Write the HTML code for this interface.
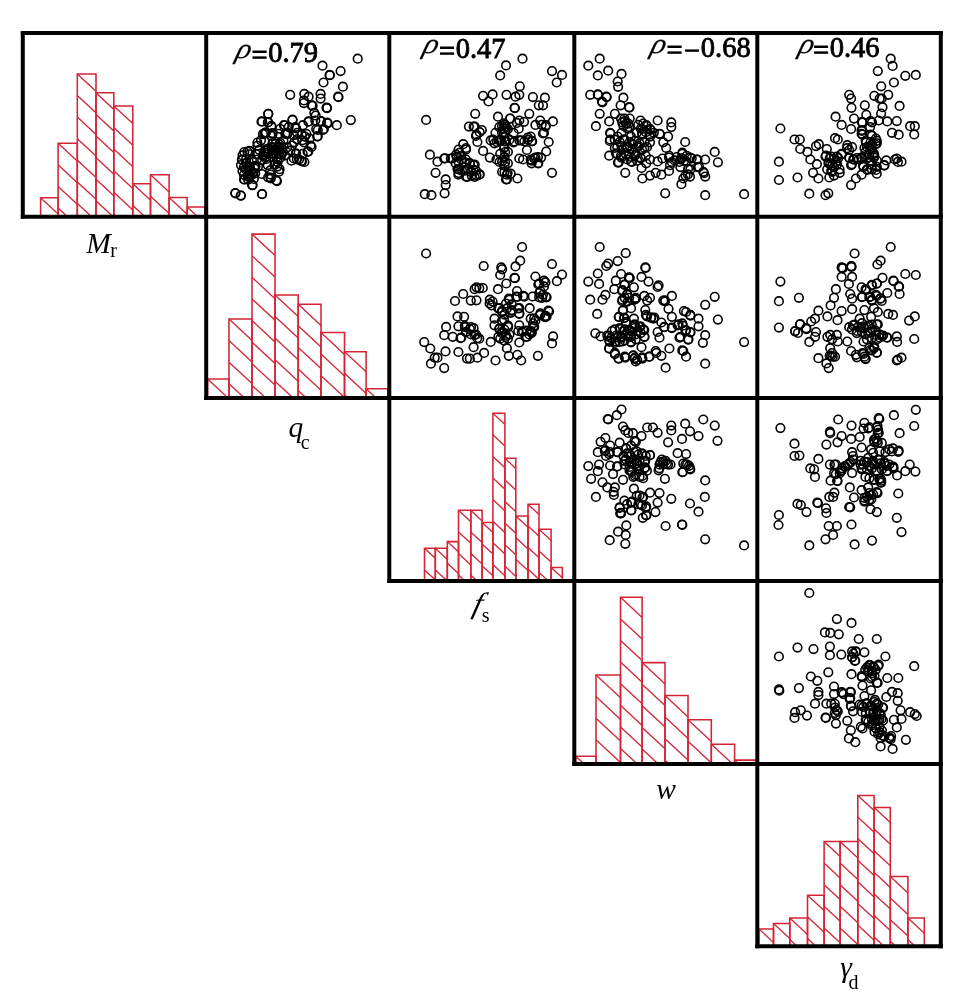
<!DOCTYPE html>
<html><head><meta charset="utf-8"><title>Scatter matrix</title>
<style>
html,body{margin:0;padding:0;background:#fff;}
body{width:968px;height:999px;overflow:hidden;}
svg{display:block;will-change:transform;}
text{font-family:"Liberation Serif",serif;fill:#000;}
</style></head><body>
<svg width="968" height="999" viewBox="0 0 968 999">
<rect x="0" y="0" width="968" height="999" fill="#fff"/>
<g fill="none" stroke="#d42436" stroke-width="1.55">
<path d="M40.6 197.7L58.1 214.0" stroke-width="1.35" stroke="#d02a3c"/>
<path d="M40.6 215.3V197.7H58.1V215.3"/>
<path d="M58.1 143.2L77.3 161.1M58.1 164.8L77.3 182.7M58.1 186.4L77.3 204.3M58.1 208.0L65.9 215.3" stroke-width="1.35" stroke="#d02a3c"/>
<path d="M58.1 215.3V143.2H77.3V215.3"/>
<path d="M77.3 73.9L96.0 91.2M77.3 95.5L96.0 112.8M77.3 117.1L96.0 134.4M77.3 138.7L96.0 156.0M77.3 160.3L96.0 177.6M77.3 181.9L96.0 199.2M77.3 203.5L90.0 215.3" stroke-width="1.35" stroke="#d02a3c"/>
<path d="M77.3 215.3V73.9H96.0V215.3"/>
<path d="M96.0 92.8L113.8 109.4M96.0 114.4L113.8 131.0M96.0 136.0L113.8 152.6M96.0 157.6L113.8 174.2M96.0 179.2L113.8 195.8M96.0 200.8L111.5 215.3" stroke-width="1.35" stroke="#d02a3c"/>
<path d="M96.0 215.3V92.8H113.8V215.3"/>
<path d="M113.8 105.9L132.8 123.6M113.8 127.5L132.8 145.2M113.8 149.1L132.8 166.8M113.8 170.7L132.8 188.4M113.8 192.3L132.8 210.0M113.8 213.9L115.3 215.3" stroke-width="1.35" stroke="#d02a3c"/>
<path d="M113.8 215.3V105.9H132.8V215.3"/>
<path d="M132.8 183.8L150.5 200.3M132.8 205.4L143.4 215.3" stroke-width="1.35" stroke="#d02a3c"/>
<path d="M132.8 215.3V183.8H150.5V215.3"/>
<path d="M150.5 174.8L169.1 192.0M150.5 196.3L169.1 213.6" stroke-width="1.35" stroke="#d02a3c"/>
<path d="M150.5 215.3V174.8H169.1V215.3"/>
<path d="M169.1 197.4L187.1 214.2" stroke-width="1.35" stroke="#d02a3c"/>
<path d="M169.1 215.3V197.4H187.1V215.3"/>
<path d="M187.1 206.9L196.1 215.3" stroke-width="1.35" stroke="#d02a3c"/>
<path d="M187.1 215.3V206.9H204.8V215.3"/>
<path d="M207.6 379.0L226.5 396.6" stroke-width="1.35" stroke="#d02a3c"/>
<path d="M207.6 396.6V379.0H229.0V396.6"/>
<path d="M229.0 319.0L252.0 340.4M229.0 340.6L252.0 362.0M229.0 362.2L252.0 383.6M229.0 383.8L242.8 396.6" stroke-width="1.35" stroke="#d02a3c"/>
<path d="M229.0 396.6V319.0H252.0V396.6"/>
<path d="M252.0 234.1L275.0 255.5M252.0 255.7L275.0 277.1M252.0 277.3L275.0 298.7M252.0 298.9L275.0 320.3M252.0 320.5L275.0 341.9M252.0 342.1L275.0 363.5M252.0 363.7L275.0 385.1M252.0 385.3L264.2 396.6" stroke-width="1.35" stroke="#d02a3c"/>
<path d="M252.0 396.6V234.1H275.0V396.6"/>
<path d="M275.0 294.9L298.2 316.5M275.0 316.5L298.2 338.1M275.0 338.1L298.2 359.7M275.0 359.7L298.2 381.3M275.0 381.3L291.5 396.6" stroke-width="1.35" stroke="#d02a3c"/>
<path d="M275.0 396.6V294.9H298.2V396.6"/>
<path d="M298.2 304.2L321.0 325.4M298.2 325.8L321.0 347.0M298.2 347.4L321.0 368.6M298.2 369.0L321.0 390.2M298.2 390.6L304.7 396.6" stroke-width="1.35" stroke="#d02a3c"/>
<path d="M298.2 396.6V304.2H321.0V396.6"/>
<path d="M321.0 332.5L344.5 354.4M321.0 354.1L344.5 376.0M321.0 375.7L343.5 396.6M344.2 332.5L344.5 332.8" stroke-width="1.35" stroke="#d02a3c"/>
<path d="M321.0 396.6V332.5H344.5V396.6"/>
<path d="M344.5 351.7L366.1 371.8M344.5 373.3L366.1 393.4M344.5 394.9L346.3 396.6" stroke-width="1.35" stroke="#d02a3c"/>
<path d="M344.5 396.6V351.7H366.1V396.6"/>
<path d="M366.1 388.8L374.5 396.6" stroke-width="1.35" stroke="#d02a3c"/>
<path d="M366.1 396.6V388.8H387.8V396.6"/>
<path d="M424.5 548.3L435.3 558.3M424.5 569.9L434.9 579.6" stroke-width="1.35" stroke="#d02a3c"/>
<path d="M424.5 579.6V548.3H435.3V579.6"/>
<path d="M435.3 548.3L447.3 559.5M435.3 569.9L445.7 579.6" stroke-width="1.35" stroke="#d02a3c"/>
<path d="M435.3 579.6V548.3H447.3V579.6"/>
<path d="M447.3 541.6L458.5 552.0M447.3 563.2L458.5 573.6" stroke-width="1.35" stroke="#d02a3c"/>
<path d="M447.3 579.6V541.6H458.5V579.6"/>
<path d="M458.5 510.3L470.8 521.7M458.5 531.9L470.8 543.3M458.5 553.5L470.8 564.9M458.5 575.1L463.3 579.6" stroke-width="1.35" stroke="#d02a3c"/>
<path d="M458.5 579.6V510.3H470.8V579.6"/>
<path d="M470.8 510.3L482.1 520.9M470.8 531.9L482.1 542.5M470.8 553.5L482.1 564.1M470.8 575.1L475.6 579.6" stroke-width="1.35" stroke="#d02a3c"/>
<path d="M470.8 579.6V510.3H482.1V579.6"/>
<path d="M482.1 522.5L492.9 532.5M482.1 544.1L492.9 554.1M482.1 565.7L492.9 575.7" stroke-width="1.35" stroke="#d02a3c"/>
<path d="M482.1 579.6V522.5H492.9V579.6"/>
<path d="M492.9 413.2L504.9 424.5M492.9 434.8L504.9 446.1M492.9 456.4L504.9 467.7M492.9 478.0L504.9 489.3M492.9 499.6L504.9 510.9M492.9 521.2L504.9 532.5M492.9 542.8L504.9 554.1M492.9 564.4L504.9 575.7" stroke-width="1.35" stroke="#d02a3c"/>
<path d="M492.9 579.6V413.2H504.9V579.6"/>
<path d="M504.9 458.3L515.8 468.4M504.9 479.9L515.8 490.0M504.9 501.5L515.8 511.6M504.9 523.1L515.8 533.2M504.9 544.7L515.8 554.8M504.9 566.3L515.8 576.4" stroke-width="1.35" stroke="#d02a3c"/>
<path d="M504.9 579.6V458.3H515.8V579.6"/>
<path d="M515.8 516.0L528.0 527.3M515.8 537.6L528.0 548.9M515.8 559.2L528.0 570.5" stroke-width="1.35" stroke="#d02a3c"/>
<path d="M515.8 579.6V516.0H528.0V579.6"/>
<path d="M528.0 504.3L539.0 514.6M528.0 525.9L539.0 536.2M528.0 547.5L539.0 557.8M528.0 569.1L539.0 579.4" stroke-width="1.35" stroke="#d02a3c"/>
<path d="M528.0 579.6V504.3H539.0V579.6"/>
<path d="M539.0 529.3L551.1 540.5M539.0 550.9L551.1 562.1M539.0 572.5L546.7 579.6" stroke-width="1.35" stroke="#d02a3c"/>
<path d="M539.0 579.6V529.3H551.1V579.6"/>
<path d="M551.1 567.4L562.3 577.8" stroke-width="1.35" stroke="#d02a3c"/>
<path d="M551.1 579.6V567.4H562.3V579.6"/>
<path d="M575.8 756.3L582.6 762.6" stroke-width="1.35" stroke="#d02a3c"/>
<path d="M575.8 762.6V756.3H596.0V762.6"/>
<path d="M596.0 675.0L620.5 697.8M596.0 696.6L620.5 719.4M596.0 718.2L620.5 741.0M596.0 739.8L620.5 762.6M596.0 761.4L597.3 762.6M619.2 675.0L620.5 676.2" stroke-width="1.35" stroke="#d02a3c"/>
<path d="M596.0 762.6V675.0H620.5V762.6"/>
<path d="M620.5 597.3L642.1 617.4M620.5 618.9L642.1 639.0M620.5 640.5L642.1 660.6M620.5 662.1L642.1 682.2M620.5 683.7L642.1 703.8M620.5 705.3L642.1 725.4M620.5 726.9L642.1 747.0M620.5 748.5L635.7 762.6" stroke-width="1.35" stroke="#d02a3c"/>
<path d="M620.5 762.6V597.3H642.1V762.6"/>
<path d="M642.1 662.6L665.0 683.9M642.1 684.2L665.0 705.5M642.1 705.8L665.0 727.1M642.1 727.4L665.0 748.7M642.1 749.0L656.7 762.6" stroke-width="1.35" stroke="#d02a3c"/>
<path d="M642.1 762.6V662.6H665.0V762.6"/>
<path d="M665.0 695.5L688.0 716.9M665.0 717.1L688.0 738.5M665.0 738.7L688.0 760.1M665.0 760.3L667.5 762.6" stroke-width="1.35" stroke="#d02a3c"/>
<path d="M665.0 762.6V695.5H688.0V762.6"/>
<path d="M688.0 719.7L711.3 741.4M688.0 741.3L710.9 762.6M711.2 719.7L711.3 719.8" stroke-width="1.35" stroke="#d02a3c"/>
<path d="M688.0 762.6V719.7H711.3V762.6"/>
<path d="M711.3 744.3L731.0 762.6M734.5 744.3L734.6 744.4" stroke-width="1.35" stroke="#d02a3c"/>
<path d="M711.3 762.6V744.3H734.6V762.6"/>
<path d="M734.6 760.1L737.3 762.6" stroke-width="1.35" stroke="#d02a3c"/>
<path d="M734.6 762.6V760.1H755.9V762.6"/>
<path d="M759.0 928.9L773.5 942.4" stroke-width="1.35" stroke="#d02a3c"/>
<path d="M759.0 944.8V928.9H773.5V944.8"/>
<path d="M773.5 923.4L789.8 938.6" stroke-width="1.35" stroke="#d02a3c"/>
<path d="M773.5 944.8V923.4H789.8V944.8"/>
<path d="M789.8 917.9L807.5 934.4M789.8 939.5L795.5 944.8" stroke-width="1.35" stroke="#d02a3c"/>
<path d="M789.8 944.8V917.9H807.5V944.8"/>
<path d="M807.5 895.2L824.1 910.6M807.5 916.8L824.1 932.2M807.5 938.4L814.4 944.8" stroke-width="1.35" stroke="#d02a3c"/>
<path d="M807.5 944.8V895.2H824.1V944.8"/>
<path d="M824.1 841.5L840.1 856.4M824.1 863.1L840.1 878.0M824.1 884.7L840.1 899.6M824.1 906.3L840.1 921.2M824.1 927.9L840.1 942.8" stroke-width="1.35" stroke="#d02a3c"/>
<path d="M824.1 944.8V841.5H840.1V944.8"/>
<path d="M840.1 841.5L857.8 858.0M840.1 863.1L857.8 879.6M840.1 884.7L857.8 901.2M840.1 906.3L857.8 922.8M840.1 927.9L857.8 944.4" stroke-width="1.35" stroke="#d02a3c"/>
<path d="M840.1 944.8V841.5H857.8V944.8"/>
<path d="M857.8 795.4L874.1 810.6M857.8 817.0L874.1 832.2M857.8 838.6L874.1 853.8M857.8 860.2L874.1 875.4M857.8 881.8L874.1 897.0M857.8 903.4L874.1 918.6M857.8 925.0L874.1 940.2" stroke-width="1.35" stroke="#d02a3c"/>
<path d="M857.8 944.8V795.4H874.1V944.8"/>
<path d="M874.1 807.5L890.3 822.6M874.1 829.1L890.3 844.2M874.1 850.7L890.3 865.8M874.1 872.3L890.3 887.4M874.1 893.9L890.3 909.0M874.1 915.5L890.3 930.6M874.1 937.1L882.4 944.8" stroke-width="1.35" stroke="#d02a3c"/>
<path d="M874.1 944.8V807.5H890.3V944.8"/>
<path d="M890.3 876.5L907.9 892.9M890.3 898.1L907.9 914.5M890.3 919.7L907.9 936.1M890.3 941.3L894.1 944.8" stroke-width="1.35" stroke="#d02a3c"/>
<path d="M890.3 944.8V876.5H907.9V944.8"/>
<path d="M907.9 917.9L924.3 933.2M907.9 939.5L913.6 944.8" stroke-width="1.35" stroke="#d02a3c"/>
<path d="M907.9 944.8V917.9H924.3V944.8"/>
</g>
<g fill="none" stroke="#000" stroke-width="1.6">
<g><circle cx="357.7" cy="58.7" r="4.3"/><circle cx="322.5" cy="65.7" r="4.3"/><circle cx="340.6" cy="71.1" r="4.3"/><circle cx="329.6" cy="74.9" r="4.3"/><circle cx="329.9" cy="75.2" r="4.3"/><circle cx="323.5" cy="82.5" r="4.3"/><circle cx="342.9" cy="86.7" r="4.3"/><circle cx="290.2" cy="94.8" r="4.3"/><circle cx="304.3" cy="93.9" r="4.3"/><circle cx="308.6" cy="96.7" r="4.3"/><circle cx="320.6" cy="93.9" r="4.3"/><circle cx="320.6" cy="98.6" r="4.3"/><circle cx="338.1" cy="96.7" r="4.3"/><circle cx="338.5" cy="97.1" r="4.3"/><circle cx="303.9" cy="100.5" r="4.3"/><circle cx="311.5" cy="105.3" r="4.3"/><circle cx="326.7" cy="107.8" r="4.3"/><circle cx="327.1" cy="108.1" r="4.3"/><circle cx="314.3" cy="112.9" r="4.3"/><circle cx="268.3" cy="113.8" r="4.3"/><circle cx="350.8" cy="120.1" r="4.3"/><circle cx="336.8" cy="125.2" r="4.3"/><circle cx="262.1" cy="121.4" r="4.3"/><circle cx="267.8" cy="122.4" r="4.3"/><circle cx="292.5" cy="119.5" r="4.3"/><circle cx="308.6" cy="121.4" r="4.3"/><circle cx="315.3" cy="120.5" r="4.3"/><circle cx="321.0" cy="121.4" r="4.3"/><circle cx="327.7" cy="123.3" r="4.3"/><circle cx="283.9" cy="125.2" r="4.3"/><circle cx="288.7" cy="127.1" r="4.3"/><circle cx="295.3" cy="127.1" r="4.3"/><circle cx="302.9" cy="125.2" r="4.3"/><circle cx="271.6" cy="127.1" r="4.3"/><circle cx="316.2" cy="129.0" r="4.3"/><circle cx="323.9" cy="129.0" r="4.3"/><circle cx="264.9" cy="132.8" r="4.3"/><circle cx="272.5" cy="133.8" r="4.3"/><circle cx="287.7" cy="132.8" r="4.3"/><circle cx="297.2" cy="132.8" r="4.3"/><circle cx="304.8" cy="136.6" r="4.3"/><circle cx="317.2" cy="136.6" r="4.3"/><circle cx="309.6" cy="138.5" r="4.3"/><circle cx="235.5" cy="193.3" r="4.3"/><circle cx="240.8" cy="195.6" r="4.3"/><circle cx="262.1" cy="194.2" r="4.3"/><circle cx="252.6" cy="185.1" r="4.3"/><circle cx="276.3" cy="180.4" r="4.3"/><circle cx="270.6" cy="177.5" r="4.3"/><circle cx="302.0" cy="161.4" r="4.3"/><circle cx="299.1" cy="159.5" r="4.3"/><circle cx="249.7" cy="150.9" r="4.3"/><circle cx="242.1" cy="159.5" r="4.3"/><circle cx="244.0" cy="179.4" r="4.3"/><circle cx="268.2" cy="113.9" r="4.3"/><circle cx="261.5" cy="121.7" r="4.3"/><circle cx="268.2" cy="122.2" r="4.3"/><circle cx="271.3" cy="125.8" r="4.3"/><circle cx="292.5" cy="120.1" r="4.3"/><circle cx="284.8" cy="125.3" r="4.3"/><circle cx="264.6" cy="133.6" r="4.3"/><circle cx="272.4" cy="133.1" r="4.3"/><circle cx="261.0" cy="140.3" r="4.3"/><circle cx="296.1" cy="128.4" r="4.3"/><circle cx="287.3" cy="134.1" r="4.3"/><circle cx="308.5" cy="121.7" r="4.3"/><circle cx="315.7" cy="115.5" r="4.3"/><circle cx="312.6" cy="105.7" r="4.3"/><circle cx="326.6" cy="107.7" r="4.3"/><circle cx="320.9" cy="121.2" r="4.3"/><circle cx="303.9" cy="103.1" r="4.3"/><circle cx="327.1" cy="122.7" r="4.3"/><circle cx="317.8" cy="130.0" r="4.3"/><circle cx="323.0" cy="130.0" r="4.3"/><circle cx="317.8" cy="136.2" r="4.3"/><circle cx="306.4" cy="134.1" r="4.3"/><circle cx="302.3" cy="140.3" r="4.3"/><circle cx="310.6" cy="145.5" r="4.3"/><circle cx="297.1" cy="139.3" r="4.3"/><circle cx="292.0" cy="145.5" r="4.3"/><circle cx="307.5" cy="151.7" r="4.3"/><circle cx="301.3" cy="161.0" r="4.3"/><circle cx="304.4" cy="162.0" r="4.3"/><circle cx="296.1" cy="153.7" r="4.3"/><circle cx="249.6" cy="151.1" r="4.3"/><circle cx="241.9" cy="159.9" r="4.3"/><circle cx="254.8" cy="166.1" r="4.3"/><circle cx="254.8" cy="166.1" r="4.3"/><circle cx="255.5" cy="166.5" r="4.3"/><circle cx="243.9" cy="167.1" r="4.3"/><circle cx="279.6" cy="169.2" r="4.3"/><circle cx="277.0" cy="181.1" r="4.3"/><circle cx="270.8" cy="178.5" r="4.3"/><circle cx="252.2" cy="185.2" r="4.3"/><circle cx="244.5" cy="179.5" r="4.3"/><circle cx="253.8" cy="179.0" r="4.3"/><circle cx="248.6" cy="174.4" r="4.3"/><circle cx="262.0" cy="194.0" r="4.3"/><circle cx="235.2" cy="193.0" r="4.3"/><circle cx="240.8" cy="195.6" r="4.3"/><circle cx="262.9" cy="134.1" r="4.3"/><circle cx="279.3" cy="146.9" r="4.3"/><circle cx="242.5" cy="155.4" r="4.3"/><circle cx="270.7" cy="174.6" r="4.3"/><circle cx="282.4" cy="148.8" r="4.3"/><circle cx="304.1" cy="142.4" r="4.3"/><circle cx="261.8" cy="174.0" r="4.3"/><circle cx="251.9" cy="159.9" r="4.3"/><circle cx="287.2" cy="147.3" r="4.3"/><circle cx="280.2" cy="128.8" r="4.3"/><circle cx="290.4" cy="150.7" r="4.3"/><circle cx="262.2" cy="160.1" r="4.3"/><circle cx="272.9" cy="143.0" r="4.3"/><circle cx="256.8" cy="159.5" r="4.3"/><circle cx="294.2" cy="142.3" r="4.3"/><circle cx="270.2" cy="170.4" r="4.3"/><circle cx="249.7" cy="154.3" r="4.3"/><circle cx="241.0" cy="165.1" r="4.3"/><circle cx="296.9" cy="159.4" r="4.3"/><circle cx="291.5" cy="160.7" r="4.3"/><circle cx="282.7" cy="152.4" r="4.3"/><circle cx="274.5" cy="164.8" r="4.3"/><circle cx="267.7" cy="165.1" r="4.3"/><circle cx="242.5" cy="171.1" r="4.3"/><circle cx="268.1" cy="177.3" r="4.3"/><circle cx="244.2" cy="152.0" r="4.3"/><circle cx="259.4" cy="149.9" r="4.3"/><circle cx="256.0" cy="154.1" r="4.3"/><circle cx="283.4" cy="140.8" r="4.3"/><circle cx="266.4" cy="159.0" r="4.3"/><circle cx="277.7" cy="162.1" r="4.3"/><circle cx="268.2" cy="148.9" r="4.3"/><circle cx="246.0" cy="163.1" r="4.3"/><circle cx="285.3" cy="133.9" r="4.3"/><circle cx="257.4" cy="145.8" r="4.3"/><circle cx="266.0" cy="132.4" r="4.3"/><circle cx="273.9" cy="154.0" r="4.3"/><circle cx="264.4" cy="140.9" r="4.3"/><circle cx="301.8" cy="134.7" r="4.3"/><circle cx="278.7" cy="133.8" r="4.3"/><circle cx="250.9" cy="171.3" r="4.3"/><circle cx="279.0" cy="171.7" r="4.3"/><circle cx="258.0" cy="166.6" r="4.3"/><circle cx="311.5" cy="146.9" r="4.3"/><circle cx="302.7" cy="153.8" r="4.3"/><circle cx="295.8" cy="153.7" r="4.3"/><circle cx="293.8" cy="135.2" r="4.3"/><circle cx="249.3" cy="174.6" r="4.3"/><circle cx="257.4" cy="142.6" r="4.3"/><circle cx="248.1" cy="179.6" r="4.3"/><circle cx="265.2" cy="152.5" r="4.3"/><circle cx="276.6" cy="156.9" r="4.3"/><circle cx="271.9" cy="136.0" r="4.3"/><circle cx="293.8" cy="158.4" r="4.3"/><circle cx="263.1" cy="156.1" r="4.3"/><circle cx="246.2" cy="158.6" r="4.3"/><circle cx="308.3" cy="151.6" r="4.3"/><circle cx="285.2" cy="155.3" r="4.3"/><circle cx="277.4" cy="166.6" r="4.3"/><circle cx="272.8" cy="157.0" r="4.3"/><circle cx="247.4" cy="151.5" r="4.3"/><circle cx="249.9" cy="168.0" r="4.3"/><circle cx="275.3" cy="144.0" r="4.3"/><circle cx="272.4" cy="153.6" r="4.3"/><circle cx="266.0" cy="156.8" r="4.3"/><circle cx="273.7" cy="149.4" r="4.3"/><circle cx="265.6" cy="154.6" r="4.3"/><circle cx="275.7" cy="150.2" r="4.3"/><circle cx="278.2" cy="150.0" r="4.3"/><circle cx="262.9" cy="155.3" r="4.3"/><circle cx="265.5" cy="150.5" r="4.3"/><circle cx="277.3" cy="159.4" r="4.3"/><circle cx="280.3" cy="143.0" r="4.3"/><circle cx="278.8" cy="153.7" r="4.3"/><circle cx="278.9" cy="147.7" r="4.3"/><circle cx="281.4" cy="154.1" r="4.3"/><circle cx="272.2" cy="150.4" r="4.3"/><circle cx="280.7" cy="157.4" r="4.3"/><circle cx="265.5" cy="150.5" r="4.3"/><circle cx="273.0" cy="147.7" r="4.3"/><circle cx="268.4" cy="152.4" r="4.3"/><circle cx="279.2" cy="144.4" r="4.3"/><circle cx="271.7" cy="147.2" r="4.3"/><circle cx="281.3" cy="148.7" r="4.3"/><circle cx="245.7" cy="169.5" r="4.3"/><circle cx="254.5" cy="168.6" r="4.3"/><circle cx="249.9" cy="176.7" r="4.3"/><circle cx="248.5" cy="170.1" r="4.3"/><circle cx="247.8" cy="176.6" r="4.3"/><circle cx="252.9" cy="172.7" r="4.3"/><circle cx="248.7" cy="167.0" r="4.3"/><circle cx="244.0" cy="174.8" r="4.3"/><circle cx="246.6" cy="163.3" r="4.3"/><circle cx="255.2" cy="173.4" r="4.3"/></g>
<g><circle cx="522.5" cy="58.7" r="4.3"/><circle cx="506.0" cy="65.4" r="4.3"/><circle cx="500.2" cy="75.4" r="4.3"/><circle cx="552.0" cy="71.1" r="4.3"/><circle cx="562.0" cy="74.9" r="4.3"/><circle cx="556.7" cy="82.5" r="4.3"/><circle cx="519.8" cy="86.3" r="4.3"/><circle cx="483.1" cy="95.8" r="4.3"/><circle cx="492.6" cy="94.4" r="4.3"/><circle cx="488.5" cy="101.5" r="4.3"/><circle cx="506.5" cy="94.8" r="4.3"/><circle cx="515.5" cy="96.7" r="4.3"/><circle cx="519.3" cy="94.8" r="4.3"/><circle cx="532.9" cy="97.1" r="4.3"/><circle cx="544.9" cy="97.7" r="4.3"/><circle cx="538.8" cy="105.3" r="4.3"/><circle cx="543.0" cy="105.3" r="4.3"/><circle cx="514.5" cy="107.8" r="4.3"/><circle cx="514.9" cy="108.1" r="4.3"/><circle cx="475.2" cy="113.8" r="4.3"/><circle cx="529.3" cy="113.8" r="4.3"/><circle cx="498.0" cy="116.7" r="4.3"/><circle cx="426.1" cy="119.9" r="4.3"/><circle cx="510.1" cy="118.6" r="4.3"/><circle cx="519.3" cy="120.5" r="4.3"/><circle cx="524.0" cy="121.8" r="4.3"/><circle cx="504.0" cy="123.3" r="4.3"/><circle cx="499.3" cy="127.1" r="4.3"/><circle cx="506.0" cy="127.1" r="4.3"/><circle cx="535.4" cy="124.9" r="4.3"/><circle cx="540.2" cy="120.5" r="4.3"/><circle cx="545.9" cy="125.2" r="4.3"/><circle cx="552.9" cy="121.4" r="4.3"/><circle cx="544.0" cy="132.8" r="4.3"/><circle cx="548.7" cy="142.0" r="4.3"/><circle cx="546.2" cy="151.5" r="4.3"/><circle cx="468.9" cy="126.6" r="4.3"/><circle cx="473.6" cy="126.6" r="4.3"/><circle cx="481.8" cy="130.0" r="4.3"/><circle cx="476.5" cy="134.7" r="4.3"/><circle cx="477.4" cy="142.0" r="4.3"/><circle cx="518.7" cy="128.7" r="4.3"/><circle cx="513.6" cy="132.8" r="4.3"/><circle cx="490.7" cy="140.4" r="4.3"/><circle cx="494.5" cy="143.3" r="4.3"/><circle cx="499.3" cy="140.4" r="4.3"/><circle cx="506.0" cy="141.4" r="4.3"/><circle cx="513.6" cy="142.3" r="4.3"/><circle cx="521.2" cy="140.4" r="4.3"/><circle cx="527.8" cy="137.6" r="4.3"/><circle cx="532.2" cy="141.4" r="4.3"/><circle cx="530.7" cy="136.6" r="4.3"/><circle cx="463.2" cy="144.2" r="4.3"/><circle cx="466.0" cy="148.0" r="4.3"/><circle cx="459.4" cy="152.8" r="4.3"/><circle cx="456.5" cy="156.6" r="4.3"/><circle cx="483.1" cy="150.9" r="4.3"/><circle cx="489.8" cy="157.6" r="4.3"/><circle cx="526.9" cy="150.0" r="4.3"/><circle cx="504.0" cy="148.0" r="4.3"/><circle cx="507.9" cy="151.9" r="4.3"/><circle cx="500.2" cy="153.8" r="4.3"/><circle cx="504.0" cy="157.6" r="4.3"/><circle cx="496.4" cy="159.5" r="4.3"/><circle cx="507.9" cy="163.3" r="4.3"/><circle cx="502.1" cy="161.4" r="4.3"/><circle cx="519.3" cy="158.5" r="4.3"/><circle cx="523.1" cy="159.5" r="4.3"/><circle cx="530.7" cy="159.5" r="4.3"/><circle cx="535.4" cy="157.6" r="4.3"/><circle cx="541.1" cy="157.6" r="4.3"/><circle cx="538.3" cy="163.3" r="4.3"/><circle cx="531.6" cy="163.3" r="4.3"/><circle cx="429.9" cy="154.7" r="4.3"/><circle cx="437.5" cy="161.7" r="4.3"/><circle cx="444.2" cy="158.5" r="4.3"/><circle cx="450.8" cy="158.5" r="4.3"/><circle cx="455.6" cy="163.3" r="4.3"/><circle cx="461.3" cy="159.5" r="4.3"/><circle cx="466.0" cy="159.5" r="4.3"/><circle cx="469.8" cy="163.3" r="4.3"/><circle cx="473.6" cy="165.2" r="4.3"/><circle cx="457.5" cy="169.0" r="4.3"/><circle cx="462.2" cy="170.9" r="4.3"/><circle cx="467.9" cy="169.0" r="4.3"/><circle cx="473.6" cy="169.9" r="4.3"/><circle cx="458.4" cy="174.7" r="4.3"/><circle cx="466.0" cy="176.6" r="4.3"/><circle cx="471.7" cy="175.6" r="4.3"/><circle cx="476.5" cy="175.6" r="4.3"/><circle cx="479.3" cy="174.7" r="4.3"/><circle cx="435.6" cy="172.8" r="4.3"/><circle cx="445.7" cy="179.4" r="4.3"/><circle cx="445.7" cy="185.1" r="4.3"/><circle cx="444.6" cy="193.3" r="4.3"/><circle cx="424.8" cy="194.2" r="4.3"/><circle cx="431.4" cy="195.2" r="4.3"/><circle cx="552.0" cy="172.8" r="4.3"/><circle cx="502.1" cy="171.8" r="4.3"/><circle cx="506.9" cy="174.7" r="4.3"/><circle cx="510.7" cy="173.7" r="4.3"/><circle cx="506.0" cy="179.4" r="4.3"/><circle cx="517.4" cy="178.5" r="4.3"/><circle cx="495.5" cy="132.8" r="4.3"/><circle cx="502.1" cy="132.8" r="4.3"/><circle cx="507.9" cy="129.0" r="4.3"/><circle cx="493.3" cy="139.7" r="4.3"/><circle cx="497.0" cy="142.1" r="4.3"/><circle cx="500.7" cy="140.3" r="4.3"/><circle cx="504.5" cy="141.5" r="4.3"/><circle cx="509.4" cy="139.7" r="4.3"/><circle cx="514.4" cy="141.5" r="4.3"/><circle cx="519.3" cy="140.3" r="4.3"/><circle cx="524.3" cy="141.5" r="4.3"/><circle cx="528.0" cy="139.7" r="4.3"/><circle cx="531.7" cy="140.9" r="4.3"/><circle cx="504.5" cy="124.8" r="4.3"/><circle cx="503.8" cy="128.5" r="4.3"/><circle cx="505.1" cy="132.2" r="4.3"/><circle cx="504.5" cy="137.2" r="4.3"/><circle cx="504.5" cy="147.1" r="4.3"/><circle cx="505.1" cy="152.1" r="4.3"/><circle cx="504.5" cy="157.0" r="4.3"/><circle cx="505.1" cy="162.0" r="4.3"/><circle cx="504.5" cy="165.7" r="4.3"/><circle cx="516.9" cy="122.9" r="4.3"/><circle cx="502.0" cy="126.0" r="4.3"/><circle cx="505.7" cy="126.7" r="4.3"/><circle cx="510.0" cy="118.6" r="4.3"/><circle cx="474.7" cy="126.7" r="4.3"/><circle cx="479.7" cy="132.2" r="4.3"/><circle cx="476.0" cy="136.0" r="4.3"/><circle cx="541.7" cy="124.8" r="4.3"/><circle cx="545.4" cy="126.7" r="4.3"/><circle cx="542.9" cy="133.5" r="4.3"/><circle cx="537.9" cy="157.0" r="4.3"/><circle cx="534.2" cy="158.3" r="4.3"/><circle cx="531.7" cy="160.7" r="4.3"/><circle cx="537.9" cy="163.2" r="4.3"/><circle cx="499.5" cy="162.0" r="4.3"/><circle cx="504.5" cy="171.9" r="4.3"/><circle cx="507.6" cy="173.1" r="4.3"/><circle cx="506.9" cy="179.3" r="4.3"/><circle cx="458.6" cy="149.6" r="4.3"/><circle cx="466.0" cy="149.6" r="4.3"/><circle cx="456.1" cy="154.5" r="4.3"/><circle cx="461.1" cy="155.8" r="4.3"/><circle cx="452.4" cy="158.3" r="4.3"/><circle cx="445.0" cy="158.3" r="4.3"/><circle cx="458.6" cy="162.0" r="4.3"/><circle cx="464.8" cy="162.0" r="4.3"/><circle cx="469.8" cy="163.2" r="4.3"/><circle cx="474.7" cy="164.5" r="4.3"/><circle cx="458.6" cy="169.4" r="4.3"/><circle cx="464.8" cy="170.7" r="4.3"/><circle cx="471.0" cy="171.9" r="4.3"/><circle cx="476.0" cy="170.7" r="4.3"/><circle cx="458.6" cy="173.1" r="4.3"/><circle cx="467.3" cy="176.9" r="4.3"/><circle cx="474.7" cy="176.9" r="4.3"/><circle cx="479.7" cy="174.4" r="4.3"/></g>
<g><circle cx="599.7" cy="58.7" r="4.3"/><circle cx="588.3" cy="65.7" r="4.3"/><circle cx="608.2" cy="70.7" r="4.3"/><circle cx="597.8" cy="75.4" r="4.3"/><circle cx="621.5" cy="73.9" r="4.3"/><circle cx="617.7" cy="81.5" r="4.3"/><circle cx="618.1" cy="86.8" r="4.3"/><circle cx="590.2" cy="94.8" r="4.3"/><circle cx="597.8" cy="94.4" r="4.3"/><circle cx="598.1" cy="94.8" r="4.3"/><circle cx="606.3" cy="96.7" r="4.3"/><circle cx="606.7" cy="97.1" r="4.3"/><circle cx="602.1" cy="101.5" r="4.3"/><circle cx="623.4" cy="97.7" r="4.3"/><circle cx="620.6" cy="105.3" r="4.3"/><circle cx="629.1" cy="107.2" r="4.3"/><circle cx="629.5" cy="107.6" r="4.3"/><circle cx="599.7" cy="113.8" r="4.3"/><circle cx="614.9" cy="113.8" r="4.3"/><circle cx="609.2" cy="121.4" r="4.3"/><circle cx="595.9" cy="126.2" r="4.3"/><circle cx="624.4" cy="118.6" r="4.3"/><circle cx="626.3" cy="123.3" r="4.3"/><circle cx="629.1" cy="127.1" r="4.3"/><circle cx="640.5" cy="120.5" r="4.3"/><circle cx="646.2" cy="125.2" r="4.3"/><circle cx="650.0" cy="129.0" r="4.3"/><circle cx="642.4" cy="129.0" r="4.3"/><circle cx="657.6" cy="120.5" r="4.3"/><circle cx="671.3" cy="122.4" r="4.3"/><circle cx="671.3" cy="127.1" r="4.3"/><circle cx="610.1" cy="132.8" r="4.3"/><circle cx="610.1" cy="139.5" r="4.3"/><circle cx="617.7" cy="136.6" r="4.3"/><circle cx="623.4" cy="139.5" r="4.3"/><circle cx="621.5" cy="132.8" r="4.3"/><circle cx="631.0" cy="136.6" r="4.3"/><circle cx="636.7" cy="132.8" r="4.3"/><circle cx="642.4" cy="134.7" r="4.3"/><circle cx="650.0" cy="136.6" r="4.3"/><circle cx="653.8" cy="132.8" r="4.3"/><circle cx="659.5" cy="133.8" r="4.3"/><circle cx="668.1" cy="136.6" r="4.3"/><circle cx="663.3" cy="142.3" r="4.3"/><circle cx="666.2" cy="148.0" r="4.3"/><circle cx="685.2" cy="142.0" r="4.3"/><circle cx="614.9" cy="148.0" r="4.3"/><circle cx="621.5" cy="146.1" r="4.3"/><circle cx="627.2" cy="148.0" r="4.3"/><circle cx="632.9" cy="144.2" r="4.3"/><circle cx="638.6" cy="146.1" r="4.3"/><circle cx="644.3" cy="148.0" r="4.3"/><circle cx="650.0" cy="142.3" r="4.3"/><circle cx="609.2" cy="155.7" r="4.3"/><circle cx="616.8" cy="153.8" r="4.3"/><circle cx="621.5" cy="157.6" r="4.3"/><circle cx="629.1" cy="153.8" r="4.3"/><circle cx="634.8" cy="155.7" r="4.3"/><circle cx="640.5" cy="157.6" r="4.3"/><circle cx="631.0" cy="161.4" r="4.3"/><circle cx="618.7" cy="162.3" r="4.3"/><circle cx="646.2" cy="163.3" r="4.3"/><circle cx="650.0" cy="159.5" r="4.3"/><circle cx="657.6" cy="161.4" r="4.3"/><circle cx="662.4" cy="158.5" r="4.3"/><circle cx="669.0" cy="157.6" r="4.3"/><circle cx="674.7" cy="160.4" r="4.3"/><circle cx="680.4" cy="159.5" r="4.3"/><circle cx="682.3" cy="153.8" r="4.3"/><circle cx="686.1" cy="161.4" r="4.3"/><circle cx="690.0" cy="157.6" r="4.3"/><circle cx="697.6" cy="159.5" r="4.3"/><circle cx="705.2" cy="159.5" r="4.3"/><circle cx="714.7" cy="151.9" r="4.3"/><circle cx="717.9" cy="162.3" r="4.3"/><circle cx="625.3" cy="172.8" r="4.3"/><circle cx="641.5" cy="168.0" r="4.3"/><circle cx="642.4" cy="178.5" r="4.3"/><circle cx="650.0" cy="175.6" r="4.3"/><circle cx="655.7" cy="172.8" r="4.3"/><circle cx="661.4" cy="174.7" r="4.3"/><circle cx="669.0" cy="170.9" r="4.3"/><circle cx="670.0" cy="165.2" r="4.3"/><circle cx="680.4" cy="167.1" r="4.3"/><circle cx="688.0" cy="169.0" r="4.3"/><circle cx="690.0" cy="176.6" r="4.3"/><circle cx="683.3" cy="178.5" r="4.3"/><circle cx="681.4" cy="184.2" r="4.3"/><circle cx="703.3" cy="171.8" r="4.3"/><circle cx="705.2" cy="176.6" r="4.3"/><circle cx="697.6" cy="167.1" r="4.3"/><circle cx="665.2" cy="193.3" r="4.3"/><circle cx="705.2" cy="195.2" r="4.3"/><circle cx="744.1" cy="194.2" r="4.3"/><circle cx="621.0" cy="118.6" r="4.3"/><circle cx="624.7" cy="121.1" r="4.3"/><circle cx="628.4" cy="123.6" r="4.3"/><circle cx="623.5" cy="126.0" r="4.3"/><circle cx="627.2" cy="128.5" r="4.3"/><circle cx="622.2" cy="122.3" r="4.3"/><circle cx="629.7" cy="118.6" r="4.3"/><circle cx="643.3" cy="123.6" r="4.3"/><circle cx="647.0" cy="126.0" r="4.3"/><circle cx="650.7" cy="129.8" r="4.3"/><circle cx="640.8" cy="128.5" r="4.3"/><circle cx="645.8" cy="132.2" r="4.3"/><circle cx="649.5" cy="134.7" r="4.3"/><circle cx="642.1" cy="133.5" r="4.3"/><circle cx="638.3" cy="124.8" r="4.3"/><circle cx="614.8" cy="139.7" r="4.3"/><circle cx="619.8" cy="142.1" r="4.3"/><circle cx="624.7" cy="139.7" r="4.3"/><circle cx="629.7" cy="142.1" r="4.3"/><circle cx="634.6" cy="140.9" r="4.3"/><circle cx="639.6" cy="143.4" r="4.3"/><circle cx="644.5" cy="142.1" r="4.3"/><circle cx="617.3" cy="147.1" r="4.3"/><circle cx="622.2" cy="149.6" r="4.3"/><circle cx="627.2" cy="147.1" r="4.3"/><circle cx="632.1" cy="149.6" r="4.3"/><circle cx="637.1" cy="147.1" r="4.3"/><circle cx="642.1" cy="149.6" r="4.3"/><circle cx="647.0" cy="147.1" r="4.3"/><circle cx="616.0" cy="153.3" r="4.3"/><circle cx="621.0" cy="155.8" r="4.3"/><circle cx="626.0" cy="154.5" r="4.3"/><circle cx="630.9" cy="157.0" r="4.3"/><circle cx="635.9" cy="154.5" r="4.3"/><circle cx="640.8" cy="158.3" r="4.3"/><circle cx="645.8" cy="155.8" r="4.3"/><circle cx="632.1" cy="162.0" r="4.3"/><circle cx="637.1" cy="160.7" r="4.3"/><circle cx="627.2" cy="159.5" r="4.3"/><circle cx="685.5" cy="175.6" r="4.3"/><circle cx="676.8" cy="157.0" r="4.3"/><circle cx="681.7" cy="158.3" r="4.3"/><circle cx="684.2" cy="160.7" r="4.3"/><circle cx="679.3" cy="162.0" r="4.3"/><circle cx="686.7" cy="155.8" r="4.3"/><circle cx="610.5" cy="133.5" r="4.3"/><circle cx="609.8" cy="140.9" r="4.3"/><circle cx="617.9" cy="162.6" r="4.3"/><circle cx="669.3" cy="155.8" r="4.3"/><circle cx="671.8" cy="162.0" r="4.3"/><circle cx="682.4" cy="152.7" r="4.3"/><circle cx="660.0" cy="134.1" r="4.3"/><circle cx="691.7" cy="158.3" r="4.3"/><circle cx="696.6" cy="159.5" r="4.3"/><circle cx="699.1" cy="166.9" r="4.3"/><circle cx="704.0" cy="173.1" r="4.3"/><circle cx="690.4" cy="169.4" r="4.3"/><circle cx="687.9" cy="174.4" r="4.3"/><circle cx="602.4" cy="102.5" r="4.3"/></g>
<g><circle cx="890.7" cy="58.7" r="4.3"/><circle cx="892.6" cy="65.9" r="4.3"/><circle cx="877.8" cy="71.1" r="4.3"/><circle cx="905.3" cy="75.8" r="4.3"/><circle cx="915.8" cy="74.9" r="4.3"/><circle cx="893.9" cy="82.5" r="4.3"/><circle cx="881.2" cy="86.3" r="4.3"/><circle cx="849.2" cy="94.8" r="4.3"/><circle cx="851.1" cy="98.6" r="4.3"/><circle cx="874.3" cy="95.8" r="4.3"/><circle cx="879.7" cy="98.6" r="4.3"/><circle cx="888.2" cy="94.8" r="4.3"/><circle cx="882.5" cy="107.2" r="4.3"/><circle cx="899.6" cy="105.9" r="4.3"/><circle cx="851.5" cy="107.8" r="4.3"/><circle cx="864.8" cy="105.3" r="4.3"/><circle cx="866.3" cy="114.8" r="4.3"/><circle cx="835.6" cy="116.7" r="4.3"/><circle cx="854.0" cy="118.6" r="4.3"/><circle cx="841.6" cy="124.9" r="4.3"/><circle cx="862.5" cy="122.4" r="4.3"/><circle cx="872.0" cy="122.4" r="4.3"/><circle cx="878.7" cy="120.5" r="4.3"/><circle cx="887.3" cy="121.4" r="4.3"/><circle cx="896.8" cy="121.1" r="4.3"/><circle cx="851.1" cy="129.0" r="4.3"/><circle cx="861.6" cy="130.0" r="4.3"/><circle cx="870.1" cy="127.1" r="4.3"/><circle cx="910.1" cy="126.2" r="4.3"/><circle cx="914.8" cy="126.2" r="4.3"/><circle cx="914.2" cy="134.4" r="4.3"/><circle cx="892.0" cy="132.8" r="4.3"/><circle cx="898.7" cy="134.7" r="4.3"/><circle cx="780.4" cy="128.5" r="4.3"/><circle cx="794.5" cy="139.5" r="4.3"/><circle cx="799.8" cy="139.5" r="4.3"/><circle cx="835.0" cy="138.2" r="4.3"/><circle cx="837.8" cy="139.5" r="4.3"/><circle cx="861.6" cy="133.8" r="4.3"/><circle cx="872.0" cy="135.7" r="4.3"/><circle cx="875.9" cy="138.5" r="4.3"/><circle cx="866.3" cy="142.3" r="4.3"/><circle cx="872.0" cy="144.2" r="4.3"/><circle cx="876.8" cy="143.3" r="4.3"/><circle cx="864.4" cy="148.0" r="4.3"/><circle cx="870.1" cy="150.0" r="4.3"/><circle cx="874.0" cy="153.8" r="4.3"/><circle cx="847.3" cy="145.2" r="4.3"/><circle cx="852.1" cy="147.1" r="4.3"/><circle cx="849.2" cy="150.0" r="4.3"/><circle cx="816.0" cy="146.1" r="4.3"/><circle cx="818.8" cy="144.2" r="4.3"/><circle cx="800.2" cy="149.0" r="4.3"/><circle cx="807.4" cy="151.9" r="4.3"/><circle cx="826.8" cy="149.0" r="4.3"/><circle cx="825.5" cy="156.6" r="4.3"/><circle cx="831.2" cy="156.6" r="4.3"/><circle cx="810.3" cy="159.5" r="4.3"/><circle cx="816.9" cy="164.2" r="4.3"/><circle cx="830.2" cy="163.3" r="4.3"/><circle cx="835.9" cy="162.3" r="4.3"/><circle cx="841.6" cy="153.8" r="4.3"/><circle cx="836.9" cy="156.6" r="4.3"/><circle cx="849.2" cy="157.6" r="4.3"/><circle cx="854.0" cy="159.5" r="4.3"/><circle cx="861.6" cy="157.6" r="4.3"/><circle cx="868.2" cy="157.6" r="4.3"/><circle cx="874.0" cy="157.6" r="4.3"/><circle cx="851.1" cy="165.2" r="4.3"/><circle cx="858.7" cy="159.5" r="4.3"/><circle cx="778.9" cy="161.7" r="4.3"/><circle cx="896.8" cy="158.5" r="4.3"/><circle cx="901.5" cy="161.7" r="4.3"/><circle cx="894.9" cy="159.5" r="4.3"/><circle cx="886.3" cy="160.4" r="4.3"/><circle cx="884.4" cy="165.2" r="4.3"/><circle cx="813.1" cy="172.8" r="4.3"/><circle cx="818.4" cy="178.5" r="4.3"/><circle cx="829.3" cy="177.5" r="4.3"/><circle cx="834.0" cy="175.6" r="4.3"/><circle cx="839.7" cy="172.8" r="4.3"/><circle cx="831.2" cy="170.9" r="4.3"/><circle cx="834.0" cy="167.1" r="4.3"/><circle cx="778.9" cy="180.0" r="4.3"/><circle cx="797.5" cy="177.5" r="4.3"/><circle cx="863.5" cy="167.1" r="4.3"/><circle cx="867.3" cy="169.9" r="4.3"/><circle cx="872.0" cy="165.2" r="4.3"/><circle cx="875.9" cy="169.9" r="4.3"/><circle cx="876.8" cy="173.7" r="4.3"/><circle cx="861.6" cy="174.7" r="4.3"/><circle cx="855.9" cy="178.5" r="4.3"/><circle cx="851.1" cy="185.1" r="4.3"/><circle cx="809.3" cy="193.7" r="4.3"/><circle cx="825.5" cy="195.2" r="4.3"/><circle cx="828.3" cy="193.3" r="4.3"/><circle cx="861.9" cy="122.2" r="4.3"/><circle cx="870.6" cy="121.0" r="4.3"/><circle cx="881.7" cy="98.6" r="4.3"/><circle cx="881.1" cy="113.5" r="4.3"/><circle cx="861.9" cy="130.9" r="4.3"/><circle cx="862.5" cy="134.6" r="4.3"/><circle cx="870.6" cy="134.6" r="4.3"/><circle cx="865.6" cy="140.8" r="4.3"/><circle cx="870.6" cy="142.0" r="4.3"/><circle cx="876.8" cy="140.8" r="4.3"/><circle cx="866.9" cy="147.0" r="4.3"/><circle cx="871.8" cy="149.5" r="4.3"/><circle cx="875.5" cy="144.5" r="4.3"/><circle cx="869.3" cy="154.4" r="4.3"/><circle cx="874.3" cy="155.7" r="4.3"/><circle cx="864.4" cy="156.9" r="4.3"/><circle cx="870.6" cy="160.6" r="4.3"/><circle cx="876.8" cy="160.6" r="4.3"/><circle cx="865.6" cy="151.9" r="4.3"/><circle cx="847.0" cy="148.2" r="4.3"/><circle cx="826.0" cy="155.7" r="4.3"/><circle cx="829.7" cy="158.1" r="4.3"/><circle cx="833.4" cy="159.4" r="4.3"/><circle cx="838.3" cy="158.1" r="4.3"/><circle cx="828.4" cy="163.1" r="4.3"/><circle cx="832.1" cy="165.6" r="4.3"/><circle cx="837.1" cy="164.3" r="4.3"/><circle cx="839.6" cy="169.3" r="4.3"/><circle cx="832.1" cy="171.8" r="4.3"/><circle cx="827.2" cy="169.3" r="4.3"/><circle cx="841.4" cy="154.4" r="4.3"/><circle cx="849.5" cy="158.1" r="4.3"/><circle cx="853.2" cy="159.4" r="4.3"/><circle cx="856.9" cy="158.1" r="4.3"/><circle cx="861.9" cy="158.1" r="4.3"/><circle cx="852.0" cy="164.3" r="4.3"/><circle cx="863.1" cy="165.6" r="4.3"/><circle cx="866.9" cy="169.3" r="4.3"/><circle cx="871.8" cy="169.3" r="4.3"/><circle cx="876.8" cy="166.8" r="4.3"/><circle cx="884.2" cy="165.6" r="4.3"/><circle cx="897.9" cy="161.9" r="4.3"/></g>
<g><circle cx="522.1" cy="247.0" r="4.3"/><circle cx="426.1" cy="253.5" r="4.3"/><circle cx="520.2" cy="260.7" r="4.3"/><circle cx="515.5" cy="266.4" r="4.3"/><circle cx="552.0" cy="264.1" r="4.3"/><circle cx="483.7" cy="266.0" r="4.3"/><circle cx="501.2" cy="267.4" r="4.3"/><circle cx="502.1" cy="269.3" r="4.3"/><circle cx="500.2" cy="275.0" r="4.3"/><circle cx="562.0" cy="274.6" r="4.3"/><circle cx="556.9" cy="281.2" r="4.3"/><circle cx="535.4" cy="276.5" r="4.3"/><circle cx="514.5" cy="277.8" r="4.3"/><circle cx="514.9" cy="278.2" r="4.3"/><circle cx="544.0" cy="280.7" r="4.3"/><circle cx="538.3" cy="284.5" r="4.3"/><circle cx="544.0" cy="286.4" r="4.3"/><circle cx="506.3" cy="283.5" r="4.3"/><circle cx="476.5" cy="287.3" r="4.3"/><circle cx="479.3" cy="288.3" r="4.3"/><circle cx="474.6" cy="289.2" r="4.3"/><circle cx="498.0" cy="289.2" r="4.3"/><circle cx="517.0" cy="291.1" r="4.3"/><circle cx="463.2" cy="294.0" r="4.3"/><circle cx="523.1" cy="295.9" r="4.3"/><circle cx="517.4" cy="296.8" r="4.3"/><circle cx="532.6" cy="296.5" r="4.3"/><circle cx="539.2" cy="293.0" r="4.3"/><circle cx="542.1" cy="297.8" r="4.3"/><circle cx="545.9" cy="296.8" r="4.3"/><circle cx="455.0" cy="301.0" r="4.3"/><circle cx="470.8" cy="300.6" r="4.3"/><circle cx="476.5" cy="300.3" r="4.3"/><circle cx="489.8" cy="299.7" r="4.3"/><circle cx="492.6" cy="301.6" r="4.3"/><circle cx="491.7" cy="305.4" r="4.3"/><circle cx="508.8" cy="298.7" r="4.3"/><circle cx="506.0" cy="303.5" r="4.3"/><circle cx="511.7" cy="304.4" r="4.3"/><circle cx="499.3" cy="308.2" r="4.3"/><circle cx="502.1" cy="312.0" r="4.3"/><circle cx="511.7" cy="310.1" r="4.3"/><circle cx="519.3" cy="308.2" r="4.3"/><circle cx="519.3" cy="313.9" r="4.3"/><circle cx="529.7" cy="308.2" r="4.3"/><circle cx="548.3" cy="310.7" r="4.3"/><circle cx="544.9" cy="316.8" r="4.3"/><circle cx="545.3" cy="317.2" r="4.3"/><circle cx="540.2" cy="314.9" r="4.3"/><circle cx="530.7" cy="318.7" r="4.3"/><circle cx="535.4" cy="320.6" r="4.3"/><circle cx="533.5" cy="326.3" r="4.3"/><circle cx="457.5" cy="316.4" r="4.3"/><circle cx="464.1" cy="316.8" r="4.3"/><circle cx="494.5" cy="318.7" r="4.3"/><circle cx="504.0" cy="319.6" r="4.3"/><circle cx="507.9" cy="325.3" r="4.3"/><circle cx="494.5" cy="325.3" r="4.3"/><circle cx="499.3" cy="329.1" r="4.3"/><circle cx="446.1" cy="326.9" r="4.3"/><circle cx="458.4" cy="326.3" r="4.3"/><circle cx="465.1" cy="327.2" r="4.3"/><circle cx="469.8" cy="329.1" r="4.3"/><circle cx="473.6" cy="328.2" r="4.3"/><circle cx="466.0" cy="332.0" r="4.3"/><circle cx="474.6" cy="334.9" r="4.3"/><circle cx="444.2" cy="335.2" r="4.3"/><circle cx="452.7" cy="336.8" r="4.3"/><circle cx="461.3" cy="337.7" r="4.3"/><circle cx="479.3" cy="338.7" r="4.3"/><circle cx="490.7" cy="341.9" r="4.3"/><circle cx="502.1" cy="332.0" r="4.3"/><circle cx="506.0" cy="334.9" r="4.3"/><circle cx="500.2" cy="338.7" r="4.3"/><circle cx="504.0" cy="340.6" r="4.3"/><circle cx="507.9" cy="338.7" r="4.3"/><circle cx="519.3" cy="325.3" r="4.3"/><circle cx="518.3" cy="331.0" r="4.3"/><circle cx="523.1" cy="331.0" r="4.3"/><circle cx="526.9" cy="336.8" r="4.3"/><circle cx="531.6" cy="333.0" r="4.3"/><circle cx="530.7" cy="331.0" r="4.3"/><circle cx="519.3" cy="342.5" r="4.3"/><circle cx="553.1" cy="336.4" r="4.3"/><circle cx="552.0" cy="343.4" r="4.3"/><circle cx="424.2" cy="342.1" r="4.3"/><circle cx="430.3" cy="348.5" r="4.3"/><circle cx="445.5" cy="351.4" r="4.3"/><circle cx="437.5" cy="357.7" r="4.3"/><circle cx="434.7" cy="357.7" r="4.3"/><circle cx="430.9" cy="363.7" r="4.3"/><circle cx="444.2" cy="368.1" r="4.3"/><circle cx="458.4" cy="352.0" r="4.3"/><circle cx="473.6" cy="347.2" r="4.3"/><circle cx="484.1" cy="352.9" r="4.3"/><circle cx="469.8" cy="358.6" r="4.3"/><circle cx="467.0" cy="358.6" r="4.3"/><circle cx="477.4" cy="357.7" r="4.3"/><circle cx="506.9" cy="348.2" r="4.3"/><circle cx="508.8" cy="355.8" r="4.3"/><circle cx="495.5" cy="360.5" r="4.3"/><circle cx="517.4" cy="354.8" r="4.3"/><circle cx="521.2" cy="360.5" r="4.3"/><circle cx="537.9" cy="355.8" r="4.3"/><circle cx="482.8" cy="288.0" r="4.3"/><circle cx="489.6" cy="303.5" r="4.3"/><circle cx="509.4" cy="299.8" r="4.3"/><circle cx="516.2" cy="296.7" r="4.3"/><circle cx="524.3" cy="296.7" r="4.3"/><circle cx="539.2" cy="283.6" r="4.3"/><circle cx="545.4" cy="282.4" r="4.3"/><circle cx="540.4" cy="291.1" r="4.3"/><circle cx="542.9" cy="294.8" r="4.3"/><circle cx="539.2" cy="297.3" r="4.3"/><circle cx="546.6" cy="297.3" r="4.3"/><circle cx="498.3" cy="308.4" r="4.3"/><circle cx="502.0" cy="310.9" r="4.3"/><circle cx="506.9" cy="308.4" r="4.3"/><circle cx="511.9" cy="310.9" r="4.3"/><circle cx="518.1" cy="308.4" r="4.3"/><circle cx="519.3" cy="313.4" r="4.3"/><circle cx="504.5" cy="314.6" r="4.3"/><circle cx="510.7" cy="312.8" r="4.3"/><circle cx="502.0" cy="320.8" r="4.3"/><circle cx="499.5" cy="328.3" r="4.3"/><circle cx="504.5" cy="329.5" r="4.3"/><circle cx="508.2" cy="327.0" r="4.3"/><circle cx="502.0" cy="333.2" r="4.3"/><circle cx="505.7" cy="336.9" r="4.3"/><circle cx="498.3" cy="336.9" r="4.3"/><circle cx="509.4" cy="334.5" r="4.3"/><circle cx="521.8" cy="332.0" r="4.3"/><circle cx="526.8" cy="330.7" r="4.3"/><circle cx="529.3" cy="334.5" r="4.3"/><circle cx="531.7" cy="332.0" r="4.3"/><circle cx="525.5" cy="336.9" r="4.3"/><circle cx="534.2" cy="318.3" r="4.3"/><circle cx="533.0" cy="323.3" r="4.3"/><circle cx="534.2" cy="327.0" r="4.3"/><circle cx="540.4" cy="313.4" r="4.3"/><circle cx="545.4" cy="315.9" r="4.3"/><circle cx="546.6" cy="316.5" r="4.3"/><circle cx="549.1" cy="311.5" r="4.3"/><circle cx="464.8" cy="325.8" r="4.3"/><circle cx="471.0" cy="327.0" r="4.3"/><circle cx="466.0" cy="332.0" r="4.3"/><circle cx="471.0" cy="334.5" r="4.3"/><circle cx="476.0" cy="334.5" r="4.3"/><circle cx="477.2" cy="338.2" r="4.3"/><circle cx="460.5" cy="338.2" r="4.3"/></g>
<g><circle cx="599.7" cy="247.0" r="4.3"/><circle cx="625.7" cy="253.1" r="4.3"/><circle cx="617.7" cy="261.1" r="4.3"/><circle cx="608.2" cy="263.6" r="4.3"/><circle cx="606.3" cy="266.0" r="4.3"/><circle cx="645.3" cy="267.4" r="4.3"/><circle cx="645.7" cy="267.9" r="4.3"/><circle cx="597.8" cy="273.5" r="4.3"/><circle cx="621.1" cy="274.0" r="4.3"/><circle cx="629.1" cy="277.8" r="4.3"/><circle cx="629.5" cy="278.2" r="4.3"/><circle cx="641.5" cy="276.9" r="4.3"/><circle cx="588.3" cy="281.6" r="4.3"/><circle cx="599.1" cy="283.9" r="4.3"/><circle cx="615.8" cy="280.7" r="4.3"/><circle cx="648.5" cy="281.6" r="4.3"/><circle cx="658.6" cy="285.4" r="4.3"/><circle cx="657.6" cy="287.0" r="4.3"/><circle cx="624.4" cy="284.5" r="4.3"/><circle cx="633.9" cy="287.3" r="4.3"/><circle cx="614.3" cy="289.2" r="4.3"/><circle cx="622.5" cy="290.2" r="4.3"/><circle cx="605.4" cy="294.9" r="4.3"/><circle cx="627.2" cy="294.0" r="4.3"/><circle cx="590.2" cy="299.7" r="4.3"/><circle cx="602.5" cy="299.7" r="4.3"/><circle cx="622.5" cy="299.7" r="4.3"/><circle cx="629.1" cy="297.8" r="4.3"/><circle cx="635.8" cy="298.7" r="4.3"/><circle cx="644.3" cy="295.9" r="4.3"/><circle cx="650.0" cy="297.8" r="4.3"/><circle cx="647.2" cy="300.6" r="4.3"/><circle cx="671.9" cy="295.9" r="4.3"/><circle cx="664.9" cy="300.3" r="4.3"/><circle cx="663.3" cy="300.6" r="4.3"/><circle cx="714.7" cy="296.8" r="4.3"/><circle cx="705.2" cy="304.8" r="4.3"/><circle cx="631.0" cy="308.2" r="4.3"/><circle cx="623.0" cy="310.1" r="4.3"/><circle cx="645.3" cy="310.1" r="4.3"/><circle cx="645.9" cy="314.9" r="4.3"/><circle cx="668.5" cy="308.8" r="4.3"/><circle cx="683.9" cy="311.1" r="4.3"/><circle cx="686.1" cy="312.0" r="4.3"/><circle cx="690.3" cy="314.9" r="4.3"/><circle cx="597.2" cy="313.9" r="4.3"/><circle cx="618.7" cy="316.8" r="4.3"/><circle cx="624.4" cy="317.7" r="4.3"/><circle cx="633.9" cy="318.7" r="4.3"/><circle cx="651.0" cy="317.7" r="4.3"/><circle cx="653.5" cy="318.7" r="4.3"/><circle cx="671.9" cy="316.8" r="4.3"/><circle cx="698.5" cy="318.7" r="4.3"/><circle cx="717.9" cy="319.6" r="4.3"/><circle cx="626.3" cy="323.4" r="4.3"/><circle cx="634.8" cy="325.3" r="4.3"/><circle cx="640.5" cy="326.3" r="4.3"/><circle cx="661.4" cy="322.5" r="4.3"/><circle cx="664.3" cy="327.2" r="4.3"/><circle cx="671.9" cy="328.2" r="4.3"/><circle cx="677.6" cy="325.3" r="4.3"/><circle cx="682.3" cy="323.4" r="4.3"/><circle cx="698.5" cy="326.3" r="4.3"/><circle cx="620.6" cy="329.1" r="4.3"/><circle cx="612.0" cy="331.0" r="4.3"/><circle cx="624.4" cy="331.0" r="4.3"/><circle cx="631.0" cy="331.0" r="4.3"/><circle cx="637.7" cy="331.0" r="4.3"/><circle cx="644.3" cy="330.1" r="4.3"/><circle cx="686.1" cy="330.1" r="4.3"/><circle cx="690.3" cy="332.0" r="4.3"/><circle cx="595.3" cy="333.3" r="4.3"/><circle cx="600.6" cy="336.4" r="4.3"/><circle cx="609.2" cy="335.8" r="4.3"/><circle cx="614.9" cy="337.7" r="4.3"/><circle cx="621.5" cy="337.7" r="4.3"/><circle cx="631.0" cy="336.8" r="4.3"/><circle cx="644.3" cy="336.8" r="4.3"/><circle cx="657.6" cy="332.0" r="4.3"/><circle cx="659.5" cy="337.7" r="4.3"/><circle cx="679.5" cy="337.7" r="4.3"/><circle cx="688.0" cy="339.6" r="4.3"/><circle cx="705.2" cy="335.2" r="4.3"/><circle cx="609.2" cy="340.6" r="4.3"/><circle cx="615.8" cy="341.5" r="4.3"/><circle cx="622.5" cy="341.5" r="4.3"/><circle cx="631.0" cy="342.5" r="4.3"/><circle cx="702.9" cy="342.8" r="4.3"/><circle cx="744.1" cy="342.1" r="4.3"/><circle cx="609.2" cy="348.2" r="4.3"/><circle cx="641.5" cy="347.2" r="4.3"/><circle cx="669.4" cy="348.5" r="4.3"/><circle cx="682.3" cy="350.4" r="4.3"/><circle cx="683.3" cy="351.0" r="4.3"/><circle cx="686.1" cy="356.7" r="4.3"/><circle cx="655.7" cy="351.0" r="4.3"/><circle cx="661.4" cy="355.8" r="4.3"/><circle cx="614.9" cy="352.9" r="4.3"/><circle cx="618.7" cy="358.6" r="4.3"/><circle cx="625.3" cy="357.7" r="4.3"/><circle cx="632.9" cy="355.8" r="4.3"/><circle cx="634.8" cy="358.6" r="4.3"/><circle cx="635.8" cy="361.5" r="4.3"/><circle cx="642.4" cy="358.6" r="4.3"/><circle cx="649.1" cy="356.7" r="4.3"/><circle cx="665.6" cy="367.7" r="4.3"/><circle cx="705.2" cy="363.7" r="4.3"/><circle cx="629.0" cy="277.3" r="4.3"/><circle cx="629.6" cy="277.9" r="4.3"/><circle cx="624.7" cy="284.8" r="4.3"/><circle cx="622.2" cy="291.0" r="4.3"/><circle cx="627.1" cy="294.7" r="4.3"/><circle cx="624.7" cy="297.8" r="4.3"/><circle cx="622.2" cy="300.9" r="4.3"/><circle cx="627.8" cy="301.5" r="4.3"/><circle cx="635.8" cy="297.8" r="4.3"/><circle cx="634.6" cy="299.6" r="4.3"/><circle cx="665.0" cy="301.5" r="4.3"/><circle cx="622.8" cy="310.8" r="4.3"/><circle cx="647.0" cy="316.4" r="4.3"/><circle cx="651.3" cy="317.6" r="4.3"/><circle cx="654.4" cy="317.6" r="4.3"/><circle cx="619.1" cy="317.0" r="4.3"/><circle cx="624.0" cy="318.2" r="4.3"/><circle cx="625.9" cy="321.9" r="4.3"/><circle cx="634.6" cy="324.4" r="4.3"/><circle cx="690.4" cy="315.7" r="4.3"/><circle cx="664.3" cy="326.9" r="4.3"/><circle cx="671.8" cy="327.5" r="4.3"/><circle cx="678.6" cy="324.4" r="4.3"/><circle cx="682.9" cy="325.7" r="4.3"/><circle cx="685.4" cy="330.6" r="4.3"/><circle cx="690.4" cy="332.5" r="4.3"/><circle cx="680.5" cy="336.8" r="4.3"/><circle cx="688.5" cy="339.3" r="4.3"/><circle cx="614.8" cy="329.4" r="4.3"/><circle cx="619.7" cy="328.1" r="4.3"/><circle cx="624.7" cy="329.4" r="4.3"/><circle cx="629.6" cy="330.6" r="4.3"/><circle cx="634.6" cy="328.1" r="4.3"/><circle cx="639.5" cy="326.9" r="4.3"/><circle cx="643.3" cy="329.4" r="4.3"/><circle cx="607.3" cy="335.6" r="4.3"/><circle cx="611.0" cy="338.1" r="4.3"/><circle cx="616.0" cy="335.6" r="4.3"/><circle cx="621.0" cy="336.8" r="4.3"/><circle cx="625.9" cy="334.3" r="4.3"/><circle cx="630.9" cy="335.6" r="4.3"/><circle cx="635.8" cy="334.3" r="4.3"/><circle cx="640.8" cy="333.1" r="4.3"/><circle cx="644.5" cy="336.8" r="4.3"/><circle cx="609.8" cy="341.8" r="4.3"/><circle cx="614.8" cy="343.0" r="4.3"/><circle cx="619.7" cy="341.8" r="4.3"/><circle cx="624.7" cy="340.5" r="4.3"/><circle cx="630.9" cy="341.8" r="4.3"/><circle cx="635.8" cy="339.3" r="4.3"/><circle cx="609.2" cy="348.6" r="4.3"/><circle cx="614.8" cy="354.2" r="4.3"/><circle cx="618.5" cy="358.5" r="4.3"/><circle cx="624.7" cy="356.7" r="4.3"/><circle cx="633.3" cy="355.4" r="4.3"/><circle cx="634.6" cy="357.9" r="4.3"/><circle cx="637.1" cy="359.8" r="4.3"/><circle cx="642.0" cy="357.3" r="4.3"/><circle cx="649.5" cy="356.7" r="4.3"/><circle cx="656.3" cy="352.9" r="4.3"/></g>
<g><circle cx="890.7" cy="247.0" r="4.3"/><circle cx="854.6" cy="253.5" r="4.3"/><circle cx="880.6" cy="260.7" r="4.3"/><circle cx="877.4" cy="264.5" r="4.3"/><circle cx="841.6" cy="267.4" r="4.3"/><circle cx="842.6" cy="267.9" r="4.3"/><circle cx="851.1" cy="266.4" r="4.3"/><circle cx="851.5" cy="267.0" r="4.3"/><circle cx="905.3" cy="274.0" r="4.3"/><circle cx="915.8" cy="275.0" r="4.3"/><circle cx="841.6" cy="276.9" r="4.3"/><circle cx="852.1" cy="276.9" r="4.3"/><circle cx="882.5" cy="277.8" r="4.3"/><circle cx="893.3" cy="280.7" r="4.3"/><circle cx="893.7" cy="281.1" r="4.3"/><circle cx="780.4" cy="281.6" r="4.3"/><circle cx="848.9" cy="283.9" r="4.3"/><circle cx="876.8" cy="283.5" r="4.3"/><circle cx="872.0" cy="285.4" r="4.3"/><circle cx="898.7" cy="286.4" r="4.3"/><circle cx="835.9" cy="289.2" r="4.3"/><circle cx="861.6" cy="287.3" r="4.3"/><circle cx="866.3" cy="290.2" r="4.3"/><circle cx="887.3" cy="293.0" r="4.3"/><circle cx="899.6" cy="294.0" r="4.3"/><circle cx="850.2" cy="294.0" r="4.3"/><circle cx="852.1" cy="298.7" r="4.3"/><circle cx="834.0" cy="297.8" r="4.3"/><circle cx="798.9" cy="297.8" r="4.3"/><circle cx="778.9" cy="301.2" r="4.3"/><circle cx="862.2" cy="296.8" r="4.3"/><circle cx="870.1" cy="296.8" r="4.3"/><circle cx="872.0" cy="300.6" r="4.3"/><circle cx="880.6" cy="298.7" r="4.3"/><circle cx="875.9" cy="294.9" r="4.3"/><circle cx="830.6" cy="305.4" r="4.3"/><circle cx="818.4" cy="310.7" r="4.3"/><circle cx="841.6" cy="311.1" r="4.3"/><circle cx="852.1" cy="309.2" r="4.3"/><circle cx="864.4" cy="310.1" r="4.3"/><circle cx="874.0" cy="308.2" r="4.3"/><circle cx="877.8" cy="312.0" r="4.3"/><circle cx="888.2" cy="313.9" r="4.3"/><circle cx="893.0" cy="314.9" r="4.3"/><circle cx="827.4" cy="316.4" r="4.3"/><circle cx="815.0" cy="318.7" r="4.3"/><circle cx="811.2" cy="321.5" r="4.3"/><circle cx="837.5" cy="320.2" r="4.3"/><circle cx="859.7" cy="318.7" r="4.3"/><circle cx="871.1" cy="316.8" r="4.3"/><circle cx="914.8" cy="316.4" r="4.3"/><circle cx="909.1" cy="320.6" r="4.3"/><circle cx="800.2" cy="324.0" r="4.3"/><circle cx="778.9" cy="327.6" r="4.3"/><circle cx="795.1" cy="331.0" r="4.3"/><circle cx="797.9" cy="333.0" r="4.3"/><circle cx="806.5" cy="329.1" r="4.3"/><circle cx="816.0" cy="332.0" r="4.3"/><circle cx="849.2" cy="327.2" r="4.3"/><circle cx="853.0" cy="325.3" r="4.3"/><circle cx="856.8" cy="331.0" r="4.3"/><circle cx="861.6" cy="328.2" r="4.3"/><circle cx="866.3" cy="326.3" r="4.3"/><circle cx="872.0" cy="329.1" r="4.3"/><circle cx="877.8" cy="324.4" r="4.3"/><circle cx="868.2" cy="333.0" r="4.3"/><circle cx="875.9" cy="334.9" r="4.3"/><circle cx="881.6" cy="335.8" r="4.3"/><circle cx="879.7" cy="337.7" r="4.3"/><circle cx="887.3" cy="337.7" r="4.3"/><circle cx="809.3" cy="341.9" r="4.3"/><circle cx="815.0" cy="336.8" r="4.3"/><circle cx="827.4" cy="336.8" r="4.3"/><circle cx="830.2" cy="334.9" r="4.3"/><circle cx="836.9" cy="334.9" r="4.3"/><circle cx="837.8" cy="341.5" r="4.3"/><circle cx="847.3" cy="341.5" r="4.3"/><circle cx="863.5" cy="341.5" r="4.3"/><circle cx="896.8" cy="336.4" r="4.3"/><circle cx="897.1" cy="341.9" r="4.3"/><circle cx="914.2" cy="339.0" r="4.3"/><circle cx="830.2" cy="348.2" r="4.3"/><circle cx="831.2" cy="355.8" r="4.3"/><circle cx="835.0" cy="356.7" r="4.3"/><circle cx="818.4" cy="358.2" r="4.3"/><circle cx="826.4" cy="363.4" r="4.3"/><circle cx="828.7" cy="368.1" r="4.3"/><circle cx="851.1" cy="351.0" r="4.3"/><circle cx="855.9" cy="354.8" r="4.3"/><circle cx="863.5" cy="353.9" r="4.3"/><circle cx="865.4" cy="358.6" r="4.3"/><circle cx="870.1" cy="350.1" r="4.3"/><circle cx="874.0" cy="348.2" r="4.3"/><circle cx="876.8" cy="352.9" r="4.3"/><circle cx="897.7" cy="359.6" r="4.3"/><circle cx="901.5" cy="357.7" r="4.3"/><circle cx="896.8" cy="360.5" r="4.3"/><circle cx="842.7" cy="268.1" r="4.3"/><circle cx="851.4" cy="266.2" r="4.3"/><circle cx="899.1" cy="286.7" r="4.3"/><circle cx="865.6" cy="289.1" r="4.3"/><circle cx="871.8" cy="284.8" r="4.3"/><circle cx="876.8" cy="283.6" r="4.3"/><circle cx="861.9" cy="297.2" r="4.3"/><circle cx="869.3" cy="297.2" r="4.3"/><circle cx="871.8" cy="299.7" r="4.3"/><circle cx="876.8" cy="296.0" r="4.3"/><circle cx="880.5" cy="298.4" r="4.3"/><circle cx="881.7" cy="300.9" r="4.3"/><circle cx="799.9" cy="324.5" r="4.3"/><circle cx="806.1" cy="328.2" r="4.3"/><circle cx="795.0" cy="331.3" r="4.3"/><circle cx="852.0" cy="329.4" r="4.3"/><circle cx="854.5" cy="324.5" r="4.3"/><circle cx="858.2" cy="326.9" r="4.3"/><circle cx="861.9" cy="323.2" r="4.3"/><circle cx="864.4" cy="328.2" r="4.3"/><circle cx="868.1" cy="325.7" r="4.3"/><circle cx="871.8" cy="324.5" r="4.3"/><circle cx="876.8" cy="324.5" r="4.3"/><circle cx="856.9" cy="333.1" r="4.3"/><circle cx="861.9" cy="331.9" r="4.3"/><circle cx="865.6" cy="334.4" r="4.3"/><circle cx="870.6" cy="331.9" r="4.3"/><circle cx="875.5" cy="330.7" r="4.3"/><circle cx="879.3" cy="334.4" r="4.3"/><circle cx="883.0" cy="335.6" r="4.3"/><circle cx="886.7" cy="337.5" r="4.3"/><circle cx="871.8" cy="338.1" r="4.3"/><circle cx="876.8" cy="339.3" r="4.3"/><circle cx="866.9" cy="339.3" r="4.3"/><circle cx="832.1" cy="339.3" r="4.3"/><circle cx="832.1" cy="353.0" r="4.3"/><circle cx="832.8" cy="356.7" r="4.3"/><circle cx="829.7" cy="355.5" r="4.3"/><circle cx="856.9" cy="357.3" r="4.3"/><circle cx="862.5" cy="353.0" r="4.3"/><circle cx="864.4" cy="356.7" r="4.3"/><circle cx="865.6" cy="359.2" r="4.3"/><circle cx="869.3" cy="348.0" r="4.3"/><circle cx="871.8" cy="350.5" r="4.3"/><circle cx="876.8" cy="352.4" r="4.3"/><circle cx="874.3" cy="346.8" r="4.3"/></g>
<g><circle cx="621.5" cy="409.5" r="4.3"/><circle cx="616.8" cy="415.2" r="4.3"/><circle cx="607.8" cy="419.0" r="4.3"/><circle cx="608.2" cy="419.5" r="4.3"/><circle cx="703.3" cy="419.5" r="4.3"/><circle cx="714.7" cy="425.6" r="4.3"/><circle cx="685.2" cy="423.7" r="4.3"/><circle cx="671.3" cy="425.6" r="4.3"/><circle cx="671.3" cy="430.4" r="4.3"/><circle cx="623.0" cy="426.6" r="4.3"/><circle cx="625.3" cy="430.4" r="4.3"/><circle cx="647.2" cy="427.5" r="4.3"/><circle cx="652.9" cy="427.5" r="4.3"/><circle cx="657.6" cy="432.8" r="4.3"/><circle cx="632.9" cy="433.2" r="4.3"/><circle cx="641.5" cy="436.1" r="4.3"/><circle cx="690.0" cy="431.3" r="4.3"/><circle cx="698.5" cy="436.1" r="4.3"/><circle cx="682.0" cy="438.9" r="4.3"/><circle cx="717.5" cy="440.8" r="4.3"/><circle cx="668.1" cy="442.3" r="4.3"/><circle cx="605.4" cy="438.0" r="4.3"/><circle cx="600.6" cy="441.8" r="4.3"/><circle cx="619.6" cy="442.7" r="4.3"/><circle cx="610.1" cy="445.6" r="4.3"/><circle cx="635.8" cy="441.8" r="4.3"/><circle cx="631.0" cy="445.6" r="4.3"/><circle cx="626.3" cy="448.4" r="4.3"/><circle cx="605.4" cy="450.3" r="4.3"/><circle cx="597.8" cy="452.2" r="4.3"/><circle cx="609.2" cy="454.1" r="4.3"/><circle cx="617.7" cy="452.2" r="4.3"/><circle cx="623.4" cy="456.0" r="4.3"/><circle cx="629.1" cy="454.1" r="4.3"/><circle cx="636.7" cy="451.3" r="4.3"/><circle cx="642.4" cy="454.1" r="4.3"/><circle cx="650.0" cy="455.1" r="4.3"/><circle cx="677.6" cy="453.2" r="4.3"/><circle cx="686.1" cy="454.1" r="4.3"/><circle cx="663.3" cy="461.7" r="4.3"/><circle cx="668.1" cy="464.6" r="4.3"/><circle cx="659.5" cy="464.6" r="4.3"/><circle cx="683.3" cy="463.6" r="4.3"/><circle cx="687.1" cy="464.6" r="4.3"/><circle cx="690.0" cy="468.4" r="4.3"/><circle cx="682.3" cy="472.2" r="4.3"/><circle cx="658.6" cy="470.3" r="4.3"/><circle cx="624.4" cy="460.8" r="4.3"/><circle cx="631.0" cy="461.7" r="4.3"/><circle cx="636.7" cy="463.6" r="4.3"/><circle cx="645.3" cy="460.8" r="4.3"/><circle cx="645.3" cy="467.4" r="4.3"/><circle cx="638.6" cy="469.3" r="4.3"/><circle cx="631.0" cy="471.2" r="4.3"/><circle cx="634.8" cy="476.0" r="4.3"/><circle cx="642.4" cy="476.0" r="4.3"/><circle cx="588.3" cy="466.1" r="4.3"/><circle cx="599.1" cy="464.6" r="4.3"/><circle cx="610.1" cy="465.5" r="4.3"/><circle cx="617.3" cy="466.5" r="4.3"/><circle cx="597.8" cy="471.2" r="4.3"/><circle cx="613.0" cy="474.1" r="4.3"/><circle cx="623.0" cy="479.8" r="4.3"/><circle cx="591.1" cy="478.8" r="4.3"/><circle cx="664.9" cy="478.8" r="4.3"/><circle cx="705.2" cy="480.4" r="4.3"/><circle cx="602.5" cy="482.3" r="4.3"/><circle cx="607.3" cy="487.4" r="4.3"/><circle cx="614.9" cy="487.4" r="4.3"/><circle cx="633.9" cy="488.7" r="4.3"/><circle cx="613.9" cy="495.0" r="4.3"/><circle cx="595.9" cy="496.9" r="4.3"/><circle cx="650.0" cy="492.7" r="4.3"/><circle cx="659.5" cy="493.1" r="4.3"/><circle cx="636.7" cy="495.9" r="4.3"/><circle cx="642.4" cy="497.8" r="4.3"/><circle cx="671.3" cy="498.8" r="4.3"/><circle cx="704.8" cy="496.9" r="4.3"/><circle cx="657.6" cy="502.6" r="4.3"/><circle cx="624.4" cy="500.7" r="4.3"/><circle cx="631.0" cy="502.6" r="4.3"/><circle cx="640.5" cy="504.5" r="4.3"/><circle cx="646.2" cy="506.4" r="4.3"/><circle cx="619.6" cy="507.3" r="4.3"/><circle cx="620.6" cy="513.0" r="4.3"/><circle cx="621.0" cy="513.4" r="4.3"/><circle cx="631.0" cy="510.2" r="4.3"/><circle cx="655.4" cy="512.1" r="4.3"/><circle cx="646.2" cy="515.0" r="4.3"/><circle cx="642.8" cy="517.8" r="4.3"/><circle cx="690.0" cy="503.5" r="4.3"/><circle cx="698.5" cy="511.7" r="4.3"/><circle cx="626.3" cy="525.4" r="4.3"/><circle cx="665.6" cy="526.0" r="4.3"/><circle cx="682.0" cy="524.5" r="4.3"/><circle cx="682.3" cy="524.8" r="4.3"/><circle cx="618.1" cy="531.7" r="4.3"/><circle cx="625.7" cy="534.9" r="4.3"/><circle cx="609.7" cy="540.2" r="4.3"/><circle cx="625.3" cy="543.8" r="4.3"/><circle cx="705.2" cy="539.3" r="4.3"/><circle cx="744.1" cy="545.4" r="4.3"/><circle cx="628.3" cy="432.9" r="4.3"/><circle cx="634.5" cy="441.0" r="4.3"/><circle cx="625.9" cy="448.4" r="4.3"/><circle cx="604.8" cy="450.9" r="4.3"/><circle cx="609.8" cy="452.1" r="4.3"/><circle cx="606.0" cy="455.9" r="4.3"/><circle cx="617.2" cy="452.1" r="4.3"/><circle cx="627.1" cy="453.4" r="4.3"/><circle cx="630.8" cy="455.9" r="4.3"/><circle cx="634.5" cy="452.1" r="4.3"/><circle cx="638.3" cy="454.6" r="4.3"/><circle cx="642.0" cy="453.4" r="4.3"/><circle cx="645.7" cy="455.9" r="4.3"/><circle cx="650.0" cy="455.2" r="4.3"/><circle cx="625.9" cy="459.6" r="4.3"/><circle cx="629.6" cy="462.1" r="4.3"/><circle cx="634.5" cy="459.6" r="4.3"/><circle cx="639.5" cy="460.8" r="4.3"/><circle cx="644.5" cy="462.1" r="4.3"/><circle cx="624.6" cy="464.5" r="4.3"/><circle cx="629.6" cy="467.0" r="4.3"/><circle cx="634.5" cy="464.5" r="4.3"/><circle cx="639.5" cy="465.8" r="4.3"/><circle cx="644.5" cy="468.3" r="4.3"/><circle cx="646.9" cy="470.7" r="4.3"/><circle cx="632.1" cy="472.0" r="4.3"/><circle cx="635.8" cy="474.5" r="4.3"/><circle cx="639.5" cy="476.9" r="4.3"/><circle cx="643.2" cy="478.2" r="4.3"/><circle cx="633.3" cy="476.9" r="4.3"/><circle cx="629.6" cy="470.7" r="4.3"/><circle cx="660.6" cy="462.1" r="4.3"/><circle cx="663.1" cy="464.5" r="4.3"/><circle cx="666.8" cy="463.3" r="4.3"/><circle cx="670.5" cy="464.5" r="4.3"/><circle cx="659.3" cy="468.3" r="4.3"/><circle cx="661.8" cy="459.6" r="4.3"/><circle cx="665.5" cy="460.8" r="4.3"/><circle cx="685.4" cy="464.5" r="4.3"/><circle cx="689.1" cy="465.8" r="4.3"/><circle cx="682.9" cy="472.0" r="4.3"/><circle cx="690.3" cy="469.5" r="4.3"/><circle cx="617.2" cy="466.4" r="4.3"/><circle cx="613.5" cy="491.8" r="4.3"/><circle cx="639.5" cy="495.5" r="4.3"/><circle cx="643.2" cy="496.8" r="4.3"/><circle cx="627.1" cy="504.2" r="4.3"/><circle cx="632.1" cy="501.7" r="4.3"/><circle cx="638.3" cy="504.2" r="4.3"/><circle cx="642.0" cy="505.5" r="4.3"/><circle cx="645.7" cy="507.9" r="4.3"/><circle cx="631.4" cy="510.4" r="4.3"/><circle cx="619.7" cy="507.9" r="4.3"/><circle cx="620.9" cy="512.9" r="4.3"/><circle cx="620.3" cy="513.5" r="4.3"/><circle cx="646.3" cy="515.4" r="4.3"/></g>
<g><circle cx="915.8" cy="409.8" r="4.3"/><circle cx="893.9" cy="415.2" r="4.3"/><circle cx="878.7" cy="418.0" r="4.3"/><circle cx="879.3" cy="419.0" r="4.3"/><circle cx="838.2" cy="419.5" r="4.3"/><circle cx="914.2" cy="426.0" r="4.3"/><circle cx="864.4" cy="422.8" r="4.3"/><circle cx="851.5" cy="425.6" r="4.3"/><circle cx="780.4" cy="428.1" r="4.3"/><circle cx="863.5" cy="428.5" r="4.3"/><circle cx="868.2" cy="428.5" r="4.3"/><circle cx="876.8" cy="427.5" r="4.3"/><circle cx="829.9" cy="431.7" r="4.3"/><circle cx="830.2" cy="433.2" r="4.3"/><circle cx="841.6" cy="436.1" r="4.3"/><circle cx="877.8" cy="433.2" r="4.3"/><circle cx="899.6" cy="433.2" r="4.3"/><circle cx="851.1" cy="438.9" r="4.3"/><circle cx="859.7" cy="437.0" r="4.3"/><circle cx="874.0" cy="439.9" r="4.3"/><circle cx="877.8" cy="442.7" r="4.3"/><circle cx="837.5" cy="442.3" r="4.3"/><circle cx="826.4" cy="444.6" r="4.3"/><circle cx="794.5" cy="443.7" r="4.3"/><circle cx="861.6" cy="447.5" r="4.3"/><circle cx="871.1" cy="449.4" r="4.3"/><circle cx="879.7" cy="451.3" r="4.3"/><circle cx="889.2" cy="449.4" r="4.3"/><circle cx="898.7" cy="450.7" r="4.3"/><circle cx="898.3" cy="451.8" r="4.3"/><circle cx="852.1" cy="452.2" r="4.3"/><circle cx="853.0" cy="456.0" r="4.3"/><circle cx="794.5" cy="456.0" r="4.3"/><circle cx="799.4" cy="455.6" r="4.3"/><circle cx="818.4" cy="458.9" r="4.3"/><circle cx="868.2" cy="457.9" r="4.3"/><circle cx="864.4" cy="461.7" r="4.3"/><circle cx="872.0" cy="462.7" r="4.3"/><circle cx="879.7" cy="459.8" r="4.3"/><circle cx="884.4" cy="463.6" r="4.3"/><circle cx="849.2" cy="463.6" r="4.3"/><circle cx="845.4" cy="466.5" r="4.3"/><circle cx="841.6" cy="470.3" r="4.3"/><circle cx="840.7" cy="471.2" r="4.3"/><circle cx="829.9" cy="464.6" r="4.3"/><circle cx="834.4" cy="464.6" r="4.3"/><circle cx="810.3" cy="468.4" r="4.3"/><circle cx="814.1" cy="469.3" r="4.3"/><circle cx="893.3" cy="466.5" r="4.3"/><circle cx="893.0" cy="467.4" r="4.3"/><circle cx="909.7" cy="464.6" r="4.3"/><circle cx="905.3" cy="471.2" r="4.3"/><circle cx="915.4" cy="471.6" r="4.3"/><circle cx="860.6" cy="464.6" r="4.3"/><circle cx="861.6" cy="469.3" r="4.3"/><circle cx="875.9" cy="471.2" r="4.3"/><circle cx="887.3" cy="471.2" r="4.3"/><circle cx="897.1" cy="475.4" r="4.3"/><circle cx="852.1" cy="473.1" r="4.3"/><circle cx="815.0" cy="476.9" r="4.3"/><circle cx="835.9" cy="474.1" r="4.3"/><circle cx="830.6" cy="480.7" r="4.3"/><circle cx="837.5" cy="481.1" r="4.3"/><circle cx="865.4" cy="476.9" r="4.3"/><circle cx="874.0" cy="479.8" r="4.3"/><circle cx="880.6" cy="478.8" r="4.3"/><circle cx="881.2" cy="482.6" r="4.3"/><circle cx="849.8" cy="487.4" r="4.3"/><circle cx="868.2" cy="487.4" r="4.3"/><circle cx="861.6" cy="490.2" r="4.3"/><circle cx="876.8" cy="492.1" r="4.3"/><circle cx="871.1" cy="495.0" r="4.3"/><circle cx="898.3" cy="493.5" r="4.3"/><circle cx="834.4" cy="492.7" r="4.3"/><circle cx="829.3" cy="496.9" r="4.3"/><circle cx="833.1" cy="496.9" r="4.3"/><circle cx="854.0" cy="497.5" r="4.3"/><circle cx="864.4" cy="497.8" r="4.3"/><circle cx="869.2" cy="499.7" r="4.3"/><circle cx="864.4" cy="501.6" r="4.3"/><circle cx="797.5" cy="503.9" r="4.3"/><circle cx="800.8" cy="505.1" r="4.3"/><circle cx="817.3" cy="502.6" r="4.3"/><circle cx="817.9" cy="503.2" r="4.3"/><circle cx="806.5" cy="512.1" r="4.3"/><circle cx="826.0" cy="508.3" r="4.3"/><circle cx="826.4" cy="513.0" r="4.3"/><circle cx="849.2" cy="507.0" r="4.3"/><circle cx="850.2" cy="507.3" r="4.3"/><circle cx="870.5" cy="509.2" r="4.3"/><circle cx="876.8" cy="512.1" r="4.3"/><circle cx="778.9" cy="515.0" r="4.3"/><circle cx="778.5" cy="525.0" r="4.3"/><circle cx="896.8" cy="517.8" r="4.3"/><circle cx="901.5" cy="532.1" r="4.3"/><circle cx="828.7" cy="526.0" r="4.3"/><circle cx="836.9" cy="526.0" r="4.3"/><circle cx="851.5" cy="524.5" r="4.3"/><circle cx="833.1" cy="534.9" r="4.3"/><circle cx="825.5" cy="539.3" r="4.3"/><circle cx="809.3" cy="545.4" r="4.3"/><circle cx="854.6" cy="544.4" r="4.3"/><circle cx="872.0" cy="540.6" r="4.3"/><circle cx="869.4" cy="427.4" r="4.3"/><circle cx="877.5" cy="426.1" r="4.3"/><circle cx="878.1" cy="429.8" r="4.3"/><circle cx="878.7" cy="432.9" r="4.3"/><circle cx="875.6" cy="438.5" r="4.3"/><circle cx="876.9" cy="441.0" r="4.3"/><circle cx="874.4" cy="442.2" r="4.3"/><circle cx="881.8" cy="442.9" r="4.3"/><circle cx="873.1" cy="452.8" r="4.3"/><circle cx="885.5" cy="452.1" r="4.3"/><circle cx="891.7" cy="451.5" r="4.3"/><circle cx="893.0" cy="448.4" r="4.3"/><circle cx="836.0" cy="464.5" r="4.3"/><circle cx="842.1" cy="468.3" r="4.3"/><circle cx="844.6" cy="466.4" r="4.3"/><circle cx="847.7" cy="464.5" r="4.3"/><circle cx="850.8" cy="462.1" r="4.3"/><circle cx="853.3" cy="459.6" r="4.3"/><circle cx="840.9" cy="471.4" r="4.3"/><circle cx="839.7" cy="473.2" r="4.3"/><circle cx="860.7" cy="460.8" r="4.3"/><circle cx="863.2" cy="464.5" r="4.3"/><circle cx="866.9" cy="462.1" r="4.3"/><circle cx="869.4" cy="465.8" r="4.3"/><circle cx="873.1" cy="460.8" r="4.3"/><circle cx="874.4" cy="464.5" r="4.3"/><circle cx="878.1" cy="459.6" r="4.3"/><circle cx="880.6" cy="463.3" r="4.3"/><circle cx="884.3" cy="462.1" r="4.3"/><circle cx="886.8" cy="465.8" r="4.3"/><circle cx="862.0" cy="468.3" r="4.3"/><circle cx="866.9" cy="469.5" r="4.3"/><circle cx="871.9" cy="468.3" r="4.3"/><circle cx="876.9" cy="470.7" r="4.3"/><circle cx="881.8" cy="469.5" r="4.3"/><circle cx="886.8" cy="470.7" r="4.3"/><circle cx="889.3" cy="464.5" r="4.3"/><circle cx="893.0" cy="467.0" r="4.3"/><circle cx="893.6" cy="468.3" r="4.3"/><circle cx="837.2" cy="480.7" r="4.3"/><circle cx="834.1" cy="473.2" r="4.3"/><circle cx="869.4" cy="478.2" r="4.3"/><circle cx="874.4" cy="479.4" r="4.3"/><circle cx="879.3" cy="478.8" r="4.3"/><circle cx="880.6" cy="482.5" r="4.3"/><circle cx="881.2" cy="480.7" r="4.3"/><circle cx="869.4" cy="493.1" r="4.3"/><circle cx="873.1" cy="494.3" r="4.3"/><circle cx="877.5" cy="493.1" r="4.3"/><circle cx="866.9" cy="496.8" r="4.3"/><circle cx="864.5" cy="500.5" r="4.3"/><circle cx="871.3" cy="499.3" r="4.3"/></g>
<g><circle cx="809.3" cy="593.0" r="4.3"/><circle cx="836.9" cy="619.1" r="4.3"/><circle cx="851.5" cy="622.9" r="4.3"/><circle cx="824.9" cy="632.4" r="4.3"/><circle cx="830.2" cy="632.9" r="4.3"/><circle cx="838.8" cy="634.3" r="4.3"/><circle cx="858.7" cy="639.0" r="4.3"/><circle cx="876.8" cy="639.0" r="4.3"/><circle cx="797.5" cy="647.6" r="4.3"/><circle cx="813.5" cy="649.1" r="4.3"/><circle cx="829.9" cy="646.6" r="4.3"/><circle cx="829.9" cy="655.2" r="4.3"/><circle cx="841.3" cy="654.6" r="4.3"/><circle cx="852.1" cy="651.4" r="4.3"/><circle cx="855.9" cy="651.4" r="4.3"/><circle cx="864.4" cy="652.3" r="4.3"/><circle cx="852.1" cy="657.1" r="4.3"/><circle cx="854.9" cy="660.9" r="4.3"/><circle cx="885.4" cy="656.5" r="4.3"/><circle cx="778.9" cy="656.5" r="4.3"/><circle cx="870.1" cy="665.6" r="4.3"/><circle cx="874.0" cy="667.5" r="4.3"/><circle cx="868.2" cy="669.4" r="4.3"/><circle cx="872.0" cy="671.3" r="4.3"/><circle cx="878.7" cy="664.7" r="4.3"/><circle cx="914.2" cy="666.2" r="4.3"/><circle cx="828.3" cy="672.3" r="4.3"/><circle cx="851.5" cy="674.2" r="4.3"/><circle cx="861.6" cy="676.1" r="4.3"/><circle cx="872.0" cy="677.0" r="4.3"/><circle cx="810.8" cy="676.5" r="4.3"/><circle cx="817.3" cy="680.8" r="4.3"/><circle cx="887.3" cy="678.0" r="4.3"/><circle cx="898.3" cy="678.0" r="4.3"/><circle cx="876.8" cy="682.7" r="4.3"/><circle cx="862.5" cy="685.6" r="4.3"/><circle cx="834.0" cy="686.5" r="4.3"/><circle cx="871.1" cy="690.3" r="4.3"/><circle cx="778.9" cy="689.4" r="4.3"/><circle cx="779.3" cy="690.7" r="4.3"/><circle cx="798.9" cy="688.1" r="4.3"/><circle cx="818.4" cy="691.9" r="4.3"/><circle cx="818.4" cy="695.1" r="4.3"/><circle cx="834.0" cy="694.1" r="4.3"/><circle cx="841.6" cy="692.2" r="4.3"/><circle cx="850.2" cy="691.9" r="4.3"/><circle cx="843.5" cy="694.1" r="4.3"/><circle cx="850.2" cy="698.0" r="4.3"/><circle cx="892.0" cy="691.9" r="4.3"/><circle cx="897.7" cy="693.2" r="4.3"/><circle cx="897.7" cy="700.8" r="4.3"/><circle cx="886.3" cy="697.0" r="4.3"/><circle cx="864.4" cy="696.0" r="4.3"/><circle cx="874.9" cy="699.9" r="4.3"/><circle cx="815.0" cy="703.7" r="4.3"/><circle cx="826.4" cy="703.7" r="4.3"/><circle cx="831.2" cy="703.7" r="4.3"/><circle cx="835.0" cy="707.5" r="4.3"/><circle cx="837.8" cy="711.3" r="4.3"/><circle cx="851.1" cy="706.5" r="4.3"/><circle cx="853.0" cy="711.3" r="4.3"/><circle cx="861.6" cy="705.6" r="4.3"/><circle cx="866.3" cy="703.7" r="4.3"/><circle cx="872.0" cy="706.5" r="4.3"/><circle cx="876.8" cy="703.7" r="4.3"/><circle cx="882.5" cy="707.5" r="4.3"/><circle cx="870.1" cy="713.2" r="4.3"/><circle cx="875.9" cy="715.1" r="4.3"/><circle cx="879.7" cy="713.2" r="4.3"/><circle cx="900.6" cy="710.3" r="4.3"/><circle cx="910.1" cy="712.2" r="4.3"/><circle cx="914.8" cy="714.1" r="4.3"/><circle cx="916.7" cy="716.0" r="4.3"/><circle cx="800.8" cy="710.3" r="4.3"/><circle cx="795.1" cy="712.2" r="4.3"/><circle cx="794.5" cy="717.9" r="4.3"/><circle cx="807.0" cy="715.6" r="4.3"/><circle cx="825.5" cy="717.5" r="4.3"/><circle cx="825.9" cy="717.9" r="4.3"/><circle cx="835.9" cy="715.1" r="4.3"/><circle cx="835.9" cy="723.6" r="4.3"/><circle cx="847.3" cy="720.8" r="4.3"/><circle cx="893.9" cy="719.8" r="4.3"/><circle cx="901.5" cy="718.9" r="4.3"/><circle cx="896.8" cy="727.4" r="4.3"/><circle cx="866.3" cy="720.8" r="4.3"/><circle cx="872.0" cy="723.6" r="4.3"/><circle cx="877.8" cy="720.8" r="4.3"/><circle cx="881.6" cy="718.9" r="4.3"/><circle cx="875.9" cy="728.4" r="4.3"/><circle cx="879.7" cy="732.2" r="4.3"/><circle cx="862.5" cy="728.4" r="4.3"/><circle cx="850.8" cy="730.3" r="4.3"/><circle cx="848.9" cy="738.4" r="4.3"/><circle cx="855.3" cy="742.2" r="4.3"/><circle cx="880.6" cy="737.9" r="4.3"/><circle cx="889.2" cy="737.9" r="4.3"/><circle cx="891.1" cy="736.0" r="4.3"/><circle cx="905.9" cy="739.8" r="4.3"/><circle cx="880.6" cy="746.4" r="4.3"/><circle cx="892.6" cy="748.9" r="4.3"/><circle cx="853.4" cy="653.6" r="4.3"/><circle cx="855.9" cy="651.8" r="4.3"/><circle cx="852.1" cy="657.4" r="4.3"/><circle cx="855.2" cy="660.5" r="4.3"/><circle cx="867.0" cy="667.3" r="4.3"/><circle cx="869.5" cy="664.8" r="4.3"/><circle cx="873.2" cy="666.7" r="4.3"/><circle cx="875.7" cy="669.8" r="4.3"/><circle cx="868.3" cy="672.2" r="4.3"/><circle cx="872.0" cy="673.5" r="4.3"/><circle cx="874.5" cy="676.0" r="4.3"/><circle cx="870.7" cy="678.4" r="4.3"/><circle cx="878.2" cy="666.0" r="4.3"/><circle cx="865.2" cy="669.8" r="4.3"/><circle cx="862.1" cy="677.2" r="4.3"/><circle cx="877.6" cy="682.8" r="4.3"/><circle cx="842.2" cy="692.7" r="4.3"/><circle cx="850.9" cy="692.1" r="4.3"/><circle cx="849.7" cy="698.9" r="4.3"/><circle cx="834.8" cy="703.8" r="4.3"/><circle cx="836.7" cy="710.0" r="4.3"/><circle cx="834.8" cy="713.1" r="4.3"/><circle cx="850.9" cy="705.7" r="4.3"/><circle cx="859.6" cy="704.5" r="4.3"/><circle cx="863.3" cy="706.9" r="4.3"/><circle cx="867.0" cy="703.2" r="4.3"/><circle cx="870.7" cy="705.7" r="4.3"/><circle cx="874.5" cy="702.0" r="4.3"/><circle cx="878.2" cy="704.5" r="4.3"/><circle cx="883.1" cy="707.6" r="4.3"/><circle cx="862.1" cy="711.9" r="4.3"/><circle cx="865.8" cy="713.1" r="4.3"/><circle cx="869.5" cy="710.7" r="4.3"/><circle cx="873.2" cy="713.1" r="4.3"/><circle cx="876.9" cy="710.7" r="4.3"/><circle cx="880.7" cy="714.4" r="4.3"/><circle cx="865.8" cy="719.3" r="4.3"/><circle cx="868.3" cy="721.8" r="4.3"/><circle cx="872.0" cy="719.3" r="4.3"/><circle cx="875.7" cy="720.6" r="4.3"/><circle cx="879.4" cy="719.3" r="4.3"/><circle cx="883.1" cy="720.6" r="4.3"/><circle cx="872.0" cy="725.5" r="4.3"/><circle cx="875.7" cy="728.0" r="4.3"/><circle cx="879.4" cy="726.8" r="4.3"/><circle cx="881.9" cy="730.5" r="4.3"/><circle cx="874.5" cy="731.7" r="4.3"/><circle cx="878.2" cy="734.2" r="4.3"/><circle cx="881.9" cy="735.5" r="4.3"/><circle cx="860.8" cy="726.8" r="4.3"/><circle cx="884.4" cy="736.7" r="4.3"/><circle cx="890.0" cy="737.9" r="4.3"/><circle cx="890.6" cy="739.2" r="4.3"/></g>
</g>
<g fill="none" stroke="#000" stroke-width="4" stroke-linecap="butt">
<path d="M22.8 31.0V218.6"/>
<path d="M206.2 31.0V399.9"/>
<path d="M389.3 31.0V582.9"/>
<path d="M574.3 31.0V765.9"/>
<path d="M757.3 31.0V948.3"/>
<path d="M940.8 31.0V948.3"/>
<path d="M20.8 33.0H942.8"/>
<path d="M20.8 216.7H942.8"/>
<path d="M204.2 398.0H942.8"/>
<path d="M387.3 581.0H942.8"/>
<path d="M572.3 764.0H942.8"/>
<path d="M755.3 946.3H942.8"/>
</g>
<text transform="translate(234.8 57.5) skewX(-15) scale(1.08 1)" font-size="28.5" font-style="italic" stroke="#000" stroke-width="0.20">ρ</text>
<text x="251.5" y="65.3" font-size="28.5" stroke="#000" stroke-width="0.85">=</text>
<text x="268.2" y="62.0" font-size="28.5" stroke="#000" stroke-width="0.85">0.79</text>
<text transform="translate(422.1 53.0) skewX(-15) scale(1.08 1)" font-size="28.5" font-style="italic" stroke="#000" stroke-width="0.20">ρ</text>
<text x="439.0" y="60.8" font-size="28.5" stroke="#000" stroke-width="0.85">=</text>
<text x="455.7" y="57.5" font-size="28.5" stroke="#000" stroke-width="0.85">0.47</text>
<text transform="translate(649.4 52.6) skewX(-15) scale(1.08 1)" font-size="28.5" font-style="italic" stroke="#000" stroke-width="0.20">ρ</text>
<text x="666.5" y="60.4" font-size="28.5" stroke="#000" stroke-width="0.85">=</text>
<text x="683.8" y="59.6" font-size="28.5" stroke="#000" stroke-width="0.85">−</text>
<text x="700.8" y="57.1" font-size="28.5" stroke="#000" stroke-width="0.85">0.68</text>
<text transform="translate(797.4 52.6) skewX(-15) scale(1.08 1)" font-size="28.5" font-style="italic" stroke="#000" stroke-width="0.20">ρ</text>
<text x="813.0" y="60.4" font-size="28.5" stroke="#000" stroke-width="0.85">=</text>
<text x="829.7" y="57.1" font-size="28.5" stroke="#000" stroke-width="0.85">0.46</text>
<text x="86.2" y="253.0" font-size="29.5" font-style="italic">M</text>
<text x="110.2" y="256.7" font-size="20.0">r</text>
<text x="288.5" y="436.6" font-size="29.5" font-style="italic">q</text>
<text x="300.8" y="449.2" font-size="20.0">c</text>
<text transform="translate(471.6 613.3) skewX(-14) scale(1.08 1)" font-size="29.5" font-style="italic">f</text>
<text x="481.7" y="621.7" font-size="20.0">s</text>
<text x="656.3" y="799.0" font-size="29.5" font-style="italic">w</text>
<text x="840.2" y="977.0" font-size="29.5" font-style="italic">γ</text>
<text x="848.6" y="988.9" font-size="20.0">d</text>
</svg>
</body></html>
